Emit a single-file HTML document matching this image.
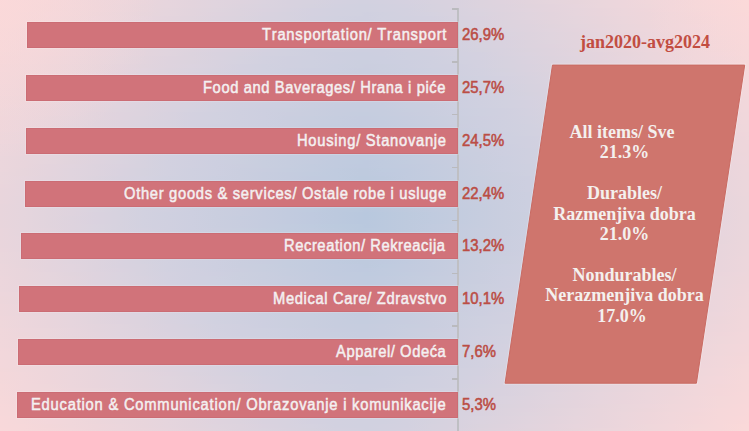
<!DOCTYPE html>
<html><head><meta charset="utf-8"><style>
html,body{margin:0;padding:0;}
body{width:749px;height:431px;overflow:hidden;position:relative;background:#d2d1e0;}
#bg div{position:absolute;left:0;width:749px;height:4px;}
#cb{position:absolute;left:0;top:0;width:749px;height:431px;background:radial-gradient(circle at 0 0,rgba(252,217,217,0.55) 0,rgba(252,217,217,0) 160px),radial-gradient(circle at 749px 0,rgba(252,217,217,0.3) 0,rgba(252,217,217,0) 110px);}
.bar{position:absolute;height:26.0px;background:#d1737a;box-shadow:0 0 0 1px rgba(255,255,255,0.15),inset 0 0 0 1px rgba(160,50,65,0.10);}
.lab,.val{position:absolute;height:0;line-height:0;white-space:nowrap;font-kerning:none;font-family:"Liberation Sans",Arial,sans-serif;font-size:15px;font-weight:700;}
.lab{color:#f4f0f1;font-size:16.0px;font-weight:400;-webkit-text-stroke:0.5px #f4f0f1;transform:scaleX(0.92);transform-origin:0 0;}
.val{left:462px;color:#bb4d45;font-size:16px;font-weight:400;-webkit-text-stroke:0.55px #bb4d45;transform:scaleX(0.93);transform-origin:0 0;}
.axis{position:absolute;left:457.1px;top:8.25px;width:1.6px;height:431px;background:#bfbfc3;}
.tick{position:absolute;left:451.5px;width:6px;height:1.5px;background:#bababe;}
.title{position:absolute;left:580px;top:41.52px;height:0;line-height:0;white-space:nowrap;color:#c24d42;
font-family:"Liberation Serif","Times New Roman",serif;font-size:18px;font-weight:700;}
.sh{position:relative;left:-2.4px;}
.box{position:absolute;left:0;top:0;}
.txt{position:absolute;left:524.5px;width:200px;top:121.7px;text-align:center;color:#f4f0ee;
font-family:"Liberation Serif","Times New Roman",serif;font-size:18px;font-weight:700;line-height:20.45px;}
</style></head><body>
<div id="bg"><div style="top:0px;background:linear-gradient(90deg,#f9d8da 0px,#f6d8da 24px,#f4d7da 48px,#f1d7db 72px,#eed6db 96px,#ecd6dc 120px,#e9d5dc 144px,#e6d5dd 168px,#e3d4dd 192px,#e0d4de 216px,#ded3de 240px,#dbd3df 264px,#d8d2df 288px,#d6d2df 312px,#d4d1e0 336px,#d2d1e0 360px,#d2d1e0 366px,#d3d1e0 384px,#d5d1e0 408px,#d7d2df 432px,#d9d2df 456px,#dcd3de 480px,#dfd3de 504px,#e2d4dd 528px,#e5d5dd 552px,#e7d5dc 576px,#ead6dc 600px,#edd6dc 624px,#f0d7db 648px,#f2d7db 672px,#f5d8da 696px,#f8d8da 720px,#fad9d9 744px,#fbd9d9 749px)"></div><div style="top:4px;background:linear-gradient(90deg,#f9d8da 0px,#f6d8da 24px,#f3d7da 48px,#f1d7db 72px,#eed6db 96px,#ebd6dc 120px,#e8d5dc 144px,#e6d5dd 168px,#e3d4dd 192px,#e0d4de 216px,#ddd3de 240px,#dad3df 264px,#d8d2df 288px,#d5d2df 312px,#d3d1e0 336px,#d1d1e0 360px,#d1d1e0 366px,#d2d1e0 384px,#d4d1e0 408px,#d6d2df 432px,#d9d2df 456px,#dcd3de 480px,#ded3de 504px,#e1d4dd 528px,#e4d4dd 552px,#e7d5dd 576px,#ead6dc 600px,#edd6dc 624px,#efd7db 648px,#f2d7db 672px,#f5d8da 696px,#f7d8da 720px,#fad9d9 744px,#fad9d9 749px)"></div><div style="top:8px;background:linear-gradient(90deg,#f8d8da 0px,#f6d8da 24px,#f3d7da 48px,#f0d7db 72px,#eed6db 96px,#ebd6dc 120px,#e8d5dc 144px,#e5d5dd 168px,#e2d4dd 192px,#dfd4de 216px,#dcd3de 240px,#dad2df 264px,#d7d2df 288px,#d4d1e0 312px,#d2d1e0 336px,#d1d1e0 360px,#d1d1e0 366px,#d2d1e0 384px,#d3d1e0 408px,#d6d2df 432px,#d8d2df 456px,#dbd3df 480px,#ded3de 504px,#e1d4de 528px,#e4d4dd 552px,#e6d5dd 576px,#e9d5dc 600px,#ecd6dc 624px,#efd6db 648px,#f2d7db 672px,#f4d8da 696px,#f7d8da 720px,#f9d9d9 744px,#fad9d9 749px)"></div><div style="top:12px;background:linear-gradient(90deg,#f8d8da 0px,#f5d8da 24px,#f3d7db 48px,#f0d7db 72px,#edd6db 96px,#ead6dc 120px,#e7d5dc 144px,#e5d5dd 168px,#e2d4dd 192px,#dfd3de 216px,#dcd3de 240px,#d9d2df 264px,#d6d2df 288px,#d4d1e0 312px,#d2d1e0 336px,#d1d1e0 360px,#d0d0e0 366px,#d1d1e0 384px,#d3d1e0 408px,#d5d2e0 432px,#d8d2df 456px,#dad3df 480px,#ddd3de 504px,#e0d4de 528px,#e3d4dd 552px,#e6d5dd 576px,#e9d5dc 600px,#ecd6dc 624px,#eed6db 648px,#f1d7db 672px,#f4d7da 696px,#f7d8da 720px,#f9d8d9 744px,#fad9d9 749px)"></div><div style="top:16px;background:linear-gradient(90deg,#f8d8da 0px,#f5d8da 24px,#f2d7db 48px,#efd7db 72px,#edd6dc 96px,#ead6dc 120px,#e7d5dd 144px,#e4d4dd 168px,#e1d4dd 192px,#ded3de 216px,#dbd3de 240px,#d8d2df 264px,#d6d2df 288px,#d3d1e0 312px,#d1d1e0 336px,#d0d0e0 360px,#d0d0e0 366px,#d1d1e0 384px,#d2d1e0 408px,#d4d1e0 432px,#d7d2df 456px,#dad2df 480px,#ddd3de 504px,#e0d4de 528px,#e3d4dd 552px,#e5d5dd 576px,#e8d5dc 600px,#ebd6dc 624px,#eed6db 648px,#f1d7db 672px,#f3d7da 696px,#f6d8da 720px,#f9d8da 744px,#f9d8d9 749px)"></div><div style="top:20px;background:linear-gradient(90deg,#f7d8da 0px,#f5d8da 24px,#f2d7db 48px,#efd7db 72px,#ecd6dc 96px,#e9d5dc 120px,#e6d5dd 144px,#e4d4dd 168px,#e1d4de 192px,#ded3de 216px,#dbd3df 240px,#d8d2df 264px,#d5d2df 288px,#d3d1e0 312px,#d1d1e0 336px,#d0d0e0 360px,#d0d0e0 366px,#d0d0e0 384px,#d2d1e0 408px,#d4d1e0 432px,#d6d2df 456px,#d9d2df 480px,#dcd3de 504px,#dfd3de 528px,#e2d4dd 552px,#e5d5dd 576px,#e8d5dc 600px,#ebd6dc 624px,#eed6db 648px,#f0d7db 672px,#f3d7da 696px,#f6d8da 720px,#f8d8da 744px,#f9d8da 749px)"></div><div style="top:24px;background:linear-gradient(90deg,#f7d8da 0px,#f4d8da 24px,#f1d7db 48px,#efd6db 72px,#ecd6dc 96px,#e9d5dc 120px,#e6d5dd 144px,#e3d4dd 168px,#e0d4de 192px,#ddd3de 216px,#dad3df 240px,#d7d2df 264px,#d4d1e0 288px,#d2d1e0 312px,#d0d0e0 336px,#cfd0e0 360px,#cfd0e0 366px,#d0d0e0 384px,#d1d1e0 408px,#d3d1e0 432px,#d6d2df 456px,#d9d2df 480px,#dcd3de 504px,#ded3de 528px,#e1d4dd 552px,#e4d5dd 576px,#e7d5dc 600px,#ead6dc 624px,#edd6db 648px,#f0d7db 672px,#f3d7db 696px,#f5d8da 720px,#f8d8da 744px,#f9d8da 749px)"></div><div style="top:28px;background:linear-gradient(90deg,#f6d8da 0px,#f4d7da 24px,#f1d7db 48px,#eed6db 72px,#ebd6dc 96px,#e8d5dc 120px,#e6d5dd 144px,#e3d4dd 168px,#e0d4de 192px,#ddd3de 216px,#dad2df 240px,#d7d2df 264px,#d4d1e0 288px,#d2d1e0 312px,#d0d0e0 336px,#cfd0e0 360px,#cfd0e0 366px,#cfd0e0 384px,#d1d1e0 408px,#d2d1e0 432px,#d5d2df 456px,#d8d2df 480px,#dbd3df 504px,#ded3de 528px,#e1d4de 552px,#e4d4dd 576px,#e7d5dd 600px,#ead6dc 624px,#edd6dc 648px,#f0d7db 672px,#f2d7db 696px,#f5d8da 720px,#f8d8da 744px,#f8d8da 749px)"></div><div style="top:32px;background:linear-gradient(90deg,#f6d8da 0px,#f3d7da 24px,#f1d7db 48px,#eed6db 72px,#ebd6dc 96px,#e8d5dc 120px,#e5d5dd 144px,#e2d4dd 168px,#dfd3de 192px,#dcd3de 216px,#d9d2df 240px,#d6d2df 264px,#d3d1e0 288px,#d1d1e0 312px,#d0d0e0 336px,#ced0e0 360px,#ced0e0 366px,#cfd0e0 384px,#d0d0e0 408px,#d2d1e0 432px,#d5d1e0 456px,#d7d2df 480px,#dad3df 504px,#ddd3de 528px,#e0d4de 552px,#e3d4dd 576px,#e6d5dd 600px,#e9d5dc 624px,#ecd6dc 648px,#efd7db 672px,#f2d7db 696px,#f5d8da 720px,#f7d8da 744px,#f8d8da 749px)"></div><div style="top:36px;background:linear-gradient(90deg,#f6d8da 0px,#f3d7da 24px,#f0d7db 48px,#edd6db 72px,#ebd6dc 96px,#e8d5dc 120px,#e5d5dd 144px,#e2d4dd 168px,#ded3de 192px,#dbd3de 216px,#d8d2df 240px,#d5d2df 264px,#d3d1e0 288px,#d1d1e0 312px,#cfd0e0 336px,#ced0e0 360px,#ced0e0 366px,#cfd0e0 384px,#d0d0e0 408px,#d1d1e0 432px,#d4d1e0 456px,#d7d2df 480px,#dad2df 504px,#ddd3de 528px,#e0d4de 552px,#e3d4dd 576px,#e6d5dd 600px,#e9d5dc 624px,#ecd6dc 648px,#efd6db 672px,#f2d7db 696px,#f4d8da 720px,#f7d8da 744px,#f7d8da 749px)"></div><div style="top:40px;background:linear-gradient(90deg,#f5d8da 0px,#f3d7db 24px,#f0d7db 48px,#edd6dc 72px,#ead6dc 96px,#e7d5dc 120px,#e4d4dd 144px,#e1d4dd 168px,#ded3de 192px,#dbd3df 216px,#d8d2df 240px,#d5d2e0 264px,#d2d1e0 288px,#d0d0e0 312px,#cfd0e0 336px,#cecfe0 360px,#cdcfe0 366px,#ced0e0 384px,#cfd0e0 408px,#d1d1e0 432px,#d3d1e0 456px,#d6d2df 480px,#d9d2df 504px,#dcd3de 528px,#dfd4de 552px,#e2d4dd 576px,#e5d5dd 600px,#e8d5dc 624px,#ebd6dc 648px,#eed6db 672px,#f1d7db 696px,#f4d7da 720px,#f7d8da 744px,#f7d8da 749px)"></div><div style="top:44px;background:linear-gradient(90deg,#f5d8da 0px,#f2d7db 24px,#efd7db 48px,#edd6dc 72px,#ead6dc 96px,#e7d5dd 120px,#e4d4dd 144px,#e1d4de 168px,#ddd3de 192px,#dad3df 216px,#d7d2df 240px,#d4d1e0 264px,#d2d1e0 288px,#d0d0e0 312px,#ced0e0 336px,#cdcfe0 360px,#cdcfe0 366px,#cecfe0 384px,#cfd0e0 408px,#d1d1e0 432px,#d3d1e0 456px,#d6d2df 480px,#d9d2df 504px,#dcd3de 528px,#dfd3de 552px,#e2d4dd 576px,#e5d5dd 600px,#e8d5dc 624px,#ebd6dc 648px,#eed6db 672px,#f1d7db 696px,#f4d7da 720px,#f6d8da 744px,#f7d8da 749px)"></div><div style="top:48px;background:linear-gradient(90deg,#f5d8da 0px,#f2d7db 24px,#efd7db 48px,#ecd6dc 72px,#e9d5dc 96px,#e6d5dd 120px,#e3d4dd 144px,#e0d4de 168px,#ddd3de 192px,#dad2df 216px,#d7d2df 240px,#d4d1e0 264px,#d1d1e0 288px,#cfd0e0 312px,#ced0e0 336px,#cdcfe0 360px,#cdcfe0 366px,#cdcfe0 384px,#cfd0e0 408px,#d0d0e0 432px,#d2d1e0 456px,#d5d2df 480px,#d8d2df 504px,#dbd3de 528px,#ded3de 552px,#e1d4dd 576px,#e5d5dd 600px,#e8d5dc 624px,#ebd6dc 648px,#eed6db 672px,#f0d7db 696px,#f3d7da 720px,#f6d8da 744px,#f6d8da 749px)"></div><div style="top:52px;background:linear-gradient(90deg,#f4d8da 0px,#f1d7db 24px,#efd6db 48px,#ecd6dc 72px,#e9d5dc 96px,#e6d5dd 120px,#e3d4dd 144px,#e0d4de 168px,#dcd3de 192px,#d9d2df 216px,#d6d2df 240px,#d3d1e0 264px,#d1d1e0 288px,#cfd0e0 312px,#cdcfe0 336px,#cccfe0 360px,#cccfe0 366px,#cdcfe0 384px,#ced0e0 408px,#d0d0e0 432px,#d2d1e0 456px,#d4d1e0 480px,#d8d2df 504px,#dbd3df 528px,#ded3de 552px,#e1d4de 576px,#e4d4dd 600px,#e7d5dc 624px,#ead6dc 648px,#edd6db 672px,#f0d7db 696px,#f3d7db 720px,#f6d8da 744px,#f6d8da 749px)"></div><div style="top:56px;background:linear-gradient(90deg,#f4d7da 0px,#f1d7db 24px,#eed6db 48px,#ebd6dc 72px,#e8d5dc 96px,#e5d5dd 120px,#e2d4dd 144px,#dfd3de 168px,#dcd3de 192px,#d9d2df 216px,#d5d2df 240px,#d2d1e0 264px,#d0d0e0 288px,#cfd0e0 312px,#cdcfe0 336px,#cccfe0 360px,#cccfe0 366px,#cccfe0 384px,#ced0e0 408px,#cfd0e0 432px,#d1d1e0 456px,#d4d1e0 480px,#d7d2df 504px,#dad3df 528px,#ddd3de 552px,#e0d4de 576px,#e4d4dd 600px,#e7d5dd 624px,#ead6dc 648px,#edd6dc 672px,#f0d7db 696px,#f2d7db 720px,#f5d8da 744px,#f6d8da 749px)"></div><div style="top:60px;background:linear-gradient(90deg,#f4d7da 0px,#f1d7db 24px,#eed6db 48px,#ebd6dc 72px,#e8d5dc 96px,#e5d5dd 120px,#e2d4dd 144px,#ded3de 168px,#dbd3de 192px,#d8d2df 216px,#d5d2e0 240px,#d2d1e0 264px,#d0d0e0 288px,#ced0e0 312px,#cdcfe0 336px,#cbcfdf 360px,#cbcfdf 366px,#cccfe0 384px,#cdcfe0 408px,#cfd0e0 432px,#d1d1e0 456px,#d3d1e0 480px,#d6d2df 504px,#dad2df 528px,#ddd3de 552px,#e0d4de 576px,#e3d4dd 600px,#e6d5dd 624px,#e9d5dc 648px,#ecd6dc 672px,#efd7db 696px,#f2d7db 720px,#f5d8da 744px,#f5d8da 749px)"></div><div style="top:64px;background:linear-gradient(90deg,#f3d7da 0px,#f0d7db 24px,#edd6db 48px,#ead6dc 72px,#e7d5dc 96px,#e4d4dd 120px,#e1d4dd 144px,#ded3de 168px,#dbd3df 192px,#d8d2df 216px,#d4d1e0 240px,#d1d1e0 264px,#d0d0e0 288px,#ced0e0 312px,#cccfe0 336px,#cbcfdf 360px,#cbcedf 366px,#cbcfdf 384px,#cdcfe0 408px,#cfd0e0 432px,#d0d0e0 456px,#d3d1e0 480px,#d6d2df 504px,#d9d2df 528px,#dcd3de 552px,#dfd4de 576px,#e3d4dd 600px,#e6d5dd 624px,#e9d5dc 648px,#ecd6dc 672px,#efd6db 696px,#f2d7db 720px,#f4d8da 744px,#f5d8da 749px)"></div><div style="top:68px;background:linear-gradient(90deg,#f3d7db 0px,#f0d7db 24px,#edd6db 48px,#ead6dc 72px,#e7d5dc 96px,#e4d4dd 120px,#e1d4de 144px,#ddd3de 168px,#dad3df 192px,#d7d2df 216px,#d4d1e0 240px,#d1d1e0 264px,#cfd0e0 288px,#cdcfe0 312px,#cccfe0 336px,#cacedf 360px,#cacedf 366px,#cbcfdf 384px,#cccfe0 408px,#ced0e0 432px,#d0d0e0 456px,#d2d1e0 480px,#d5d2df 504px,#d9d2df 528px,#dcd3de 552px,#dfd3de 576px,#e2d4dd 600px,#e5d5dd 624px,#e8d5dc 648px,#ebd6dc 672px,#eed6db 696px,#f1d7db 720px,#f4d8da 744px,#f5d8da 749px)"></div><div style="top:72px;background:linear-gradient(90deg,#f2d7db 0px,#f0d7db 24px,#edd6dc 48px,#ead6dc 72px,#e7d5dd 96px,#e3d4dd 120px,#e0d4de 144px,#ddd3de 168px,#dad2df 192px,#d6d2df 216px,#d3d1e0 240px,#d1d1e0 264px,#cfd0e0 288px,#cdcfe0 312px,#cbcfdf 336px,#cacedf 360px,#cacedf 366px,#cbcedf 384px,#cccfe0 408px,#ced0e0 432px,#d0d0e0 456px,#d2d1e0 480px,#d5d2e0 504px,#d8d2df 528px,#dbd3de 552px,#dfd3de 576px,#e2d4dd 600px,#e5d5dd 624px,#e8d5dc 648px,#ebd6dc 672px,#eed6db 696px,#f1d7db 720px,#f4d7da 744px,#f4d8da 749px)"></div><div style="top:76px;background:linear-gradient(90deg,#f2d7db 0px,#efd7db 24px,#ecd6dc 48px,#e9d5dc 72px,#e6d5dd 96px,#e3d4dd 120px,#e0d4de 144px,#dcd3de 168px,#d9d2df 192px,#d6d2df 216px,#d3d1e0 240px,#d0d0e0 264px,#ced0e0 288px,#cdcfe0 312px,#cbcfdf 336px,#cacedf 360px,#c9cedf 366px,#cacedf 384px,#cccfe0 408px,#cdcfe0 432px,#cfd0e0 456px,#d1d1e0 480px,#d4d1e0 504px,#d7d2df 528px,#dbd3df 552px,#ded3de 576px,#e1d4dd 600px,#e4d5dd 624px,#e8d5dc 648px,#ebd6dc 672px,#eed6db 696px,#f1d7db 720px,#f3d7da 744px,#f4d7da 749px)"></div><div style="top:80px;background:linear-gradient(90deg,#f2d7db 0px,#efd6db 24px,#ecd6dc 48px,#e9d5dc 72px,#e6d5dd 96px,#e3d4dd 120px,#dfd4de 144px,#dcd3de 168px,#d9d2df 192px,#d5d2df 216px,#d2d1e0 240px,#d0d0e0 264px,#ced0e0 288px,#cccfe0 312px,#cacedf 336px,#c9cedf 360px,#c9cedf 366px,#cacedf 384px,#cbcfdf 408px,#cdcfe0 432px,#cfd0e0 456px,#d1d1e0 480px,#d4d1e0 504px,#d7d2df 528px,#dad3df 552px,#ded3de 576px,#e1d4de 600px,#e4d4dd 624px,#e7d5dc 648px,#ead6dc 672px,#edd6db 696px,#f0d7db 720px,#f3d7da 744px,#f4d7da 749px)"></div><div style="top:84px;background:linear-gradient(90deg,#f1d7db 0px,#efd6db 24px,#ecd6dc 48px,#e8d5dc 72px,#e5d5dd 96px,#e2d4dd 120px,#dfd3de 144px,#dbd3de 168px,#d8d2df 192px,#d5d2e0 216px,#d2d1e0 240px,#d0d0e0 264px,#cecfe0 288px,#cccfe0 312px,#cacedf 336px,#c9cedf 360px,#c8cedf 366px,#c9cedf 384px,#cbcedf 408px,#cdcfe0 432px,#ced0e0 456px,#d1d0e0 480px,#d3d1e0 504px,#d6d2df 528px,#dad2df 552px,#ddd3de 576px,#e0d4de 600px,#e4d4dd 624px,#e7d5dd 648px,#ead6dc 672px,#edd6dc 696px,#f0d7db 720px,#f3d7db 744px,#f3d7da 749px)"></div><div style="top:88px;background:linear-gradient(90deg,#f1d7db 0px,#eed6db 24px,#ebd6dc 48px,#e8d5dc 72px,#e5d5dd 96px,#e2d4dd 120px,#ded3de 144px,#dbd3df 168px,#d8d2df 192px,#d4d1e0 216px,#d1d1e0 240px,#cfd0e0 264px,#cdcfe0 288px,#cbcfdf 312px,#c9cedf 336px,#c8cedf 360px,#c8cedf 366px,#c9cedf 384px,#cacedf 408px,#cccfe0 432px,#ced0e0 456px,#d0d0e0 480px,#d2d1e0 504px,#d6d2df 528px,#d9d2df 552px,#ddd3de 576px,#e0d4de 600px,#e3d4dd 624px,#e6d5dd 648px,#e9d5dc 672px,#edd6dc 696px,#f0d7db 720px,#f2d7db 744px,#f3d7da 749px)"></div><div style="top:92px;background:linear-gradient(90deg,#f1d7db 0px,#eed6db 24px,#ebd6dc 48px,#e8d5dc 72px,#e4d5dd 96px,#e1d4dd 120px,#ded3de 144px,#dad3df 168px,#d7d2df 192px,#d4d1e0 216px,#d1d1e0 240px,#cfd0e0 264px,#cdcfe0 288px,#cbcfdf 312px,#c9cedf 336px,#c8cddf 360px,#c7cddf 366px,#c8cedf 384px,#cacedf 408px,#cccfe0 432px,#ced0e0 456px,#d0d0e0 480px,#d2d1e0 504px,#d5d2df 528px,#d9d2df 552px,#dcd3de 576px,#dfd4de 600px,#e3d4dd 624px,#e6d5dd 648px,#e9d5dc 672px,#ecd6dc 696px,#efd7db 720px,#f2d7db 744px,#f3d7db 749px)"></div><div style="top:96px;background:linear-gradient(90deg,#f0d7db 0px,#edd6db 24px,#ead6dc 48px,#e7d5dc 72px,#e4d4dd 96px,#e1d4de 120px,#ddd3de 144px,#dad3df 168px,#d7d2df 192px,#d3d1e0 216px,#d1d0e0 240px,#ced0e0 264px,#cccfe0 288px,#cacedf 312px,#c9cedf 336px,#c7cddf 360px,#c7cddf 366px,#c8cddf 384px,#c9cedf 408px,#cbcfdf 432px,#cdcfe0 456px,#cfd0e0 480px,#d2d1e0 504px,#d5d2e0 528px,#d8d2df 552px,#dcd3de 576px,#dfd3de 600px,#e2d4dd 624px,#e5d5dd 648px,#e9d5dc 672px,#ecd6dc 696px,#efd6db 720px,#f2d7db 744px,#f2d7db 749px)"></div><div style="top:100px;background:linear-gradient(90deg,#f0d7db 0px,#edd6db 24px,#ead6dc 48px,#e7d5dd 72px,#e4d4dd 96px,#e0d4de 120px,#ddd3de 144px,#d9d2df 168px,#d6d2df 192px,#d3d1e0 216px,#d0d0e0 240px,#ced0e0 264px,#cccfe0 288px,#cacedf 312px,#c8cedf 336px,#c7cddf 360px,#c7cddf 366px,#c7cddf 384px,#c9cedf 408px,#cbcfdf 432px,#cdcfe0 456px,#cfd0e0 480px,#d1d1e0 504px,#d4d1e0 528px,#d8d2df 552px,#dbd3de 576px,#ded3de 600px,#e2d4dd 624px,#e5d5dd 648px,#e8d5dc 672px,#ebd6dc 696px,#eed6db 720px,#f1d7db 744px,#f2d7db 749px)"></div><div style="top:104px;background:linear-gradient(90deg,#f0d7db 0px,#edd6dc 24px,#ead5dc 48px,#e6d5dd 72px,#e3d4dd 96px,#e0d4de 120px,#dcd3de 144px,#d9d2df 168px,#d6d2df 192px,#d2d1e0 216px,#d0d0e0 240px,#cecfe0 264px,#cccfe0 288px,#cacedf 312px,#c8cddf 336px,#c6cddf 360px,#c6cddf 366px,#c7cddf 384px,#c9cedf 408px,#cacedf 432px,#cdcfe0 456px,#cfd0e0 480px,#d1d1e0 504px,#d4d1e0 528px,#d7d2df 552px,#dbd3df 576px,#ded3de 600px,#e1d4dd 624px,#e5d5dd 648px,#e8d5dc 672px,#ebd6dc 696px,#eed6db 720px,#f1d7db 744px,#f2d7db 749px)"></div><div style="top:108px;background:linear-gradient(90deg,#efd7db 0px,#ecd6dc 24px,#e9d5dc 48px,#e6d5dd 72px,#e3d4dd 96px,#dfd4de 120px,#dcd3de 144px,#d9d2df 168px,#d5d2e0 192px,#d2d1e0 216px,#cfd0e0 240px,#cdcfe0 264px,#cbcfdf 288px,#c9cedf 312px,#c7cddf 336px,#c6cddf 360px,#c6cddf 366px,#c6cddf 384px,#c8cedf 408px,#cacedf 432px,#cccfe0 456px,#ced0e0 480px,#d0d0e0 504px,#d3d1e0 528px,#d7d2df 552px,#dad3df 576px,#ded3de 600px,#e1d4de 624px,#e4d4dd 648px,#e8d5dc 672px,#ebd6dc 696px,#eed6db 720px,#f1d7db 744px,#f1d7db 749px)"></div><div style="top:112px;background:linear-gradient(90deg,#efd7db 0px,#ecd6dc 24px,#e9d5dc 48px,#e6d5dd 72px,#e2d4dd 96px,#dfd3de 120px,#dcd3de 144px,#d8d2df 168px,#d4d1e0 192px,#d1d1e0 216px,#cfd0e0 240px,#cdcfe0 264px,#cbcedf 288px,#c9cedf 312px,#c7cddf 336px,#c5cddf 360px,#c5cddf 366px,#c6cddf 384px,#c8cddf 408px,#cacedf 432px,#cccfe0 456px,#ced0e0 480px,#d0d0e0 504px,#d3d1e0 528px,#d6d2df 552px,#dad2df 576px,#ddd3de 600px,#e1d4de 624px,#e4d4dd 648px,#e7d5dc 672px,#ead6dc 696px,#edd6db 720px,#f0d7db 744px,#f1d7db 749px)"></div><div style="top:116px;background:linear-gradient(90deg,#efd6db 0px,#ecd6dc 24px,#e8d5dc 48px,#e5d5dd 72px,#e2d4dd 96px,#dfd3de 120px,#dbd3de 144px,#d8d2df 168px,#d4d1e0 192px,#d1d1e0 216px,#cfd0e0 240px,#cdcfe0 264px,#cacedf 288px,#c8cedf 312px,#c6cddf 336px,#c5ccdf 360px,#c5ccdf 366px,#c5cddf 384px,#c7cddf 408px,#c9cedf 432px,#cbcfdf 456px,#cecfe0 480px,#d0d0e0 504px,#d2d1e0 528px,#d6d2df 552px,#d9d2df 576px,#ddd3de 600px,#e0d4de 624px,#e3d4dd 648px,#e7d5dd 672px,#ead6dc 696px,#edd6db 720px,#f0d7db 744px,#f1d7db 749px)"></div><div style="top:120px;background:linear-gradient(90deg,#eed6db 0px,#ebd6dc 24px,#e8d5dc 48px,#e5d5dd 72px,#e1d4dd 96px,#ded3de 120px,#dbd3df 144px,#d7d2df 168px,#d3d1e0 192px,#d1d1e0 216px,#ced0e0 240px,#cccfe0 264px,#cacedf 288px,#c8cddf 312px,#c6cddf 336px,#c4ccdf 360px,#c4ccdf 366px,#c5ccdf 384px,#c7cddf 408px,#c9cedf 432px,#cbcfdf 456px,#cdcfe0 480px,#cfd0e0 504px,#d2d1e0 528px,#d5d2df 552px,#d9d2df 576px,#dcd3de 600px,#e0d4de 624px,#e3d4dd 648px,#e6d5dd 672px,#ead5dc 696px,#edd6dc 720px,#f0d7db 744px,#f0d7db 749px)"></div><div style="top:124px;background:linear-gradient(90deg,#eed6db 0px,#ebd6dc 24px,#e8d5dc 48px,#e4d5dd 72px,#e1d4dd 96px,#ded3de 120px,#dad3df 144px,#d7d2df 168px,#d3d1e0 192px,#d0d0e0 216px,#ced0e0 240px,#cccfe0 264px,#cacedf 288px,#c7cddf 312px,#c5cddf 336px,#c4ccdf 360px,#c4ccdf 366px,#c5ccdf 384px,#c6cddf 408px,#c8cedf 432px,#cbcedf 456px,#cdcfe0 480px,#cfd0e0 504px,#d1d1e0 528px,#d5d2e0 552px,#d8d2df 576px,#dcd3de 600px,#dfd4de 624px,#e3d4dd 648px,#e6d5dd 672px,#e9d5dc 696px,#ecd6dc 720px,#efd7db 744px,#f0d7db 749px)"></div><div style="top:128px;background:linear-gradient(90deg,#eed6db 0px,#ebd6dc 24px,#e7d5dc 48px,#e4d4dd 72px,#e1d4de 96px,#ddd3de 120px,#dad2df 144px,#d6d2df 168px,#d2d1e0 192px,#d0d0e0 216px,#ced0e0 240px,#cbcfdf 264px,#c9cedf 288px,#c7cddf 312px,#c5ccdf 336px,#c3ccdf 360px,#c3ccdf 366px,#c4ccdf 384px,#c6cddf 408px,#c8cedf 432px,#cacedf 456px,#cccfe0 480px,#cfd0e0 504px,#d1d1e0 528px,#d4d1e0 552px,#d8d2df 576px,#dbd3de 600px,#dfd3de 624px,#e2d4dd 648px,#e6d5dd 672px,#e9d5dc 696px,#ecd6dc 720px,#efd7db 744px,#f0d7db 749px)"></div><div style="top:132px;background:linear-gradient(90deg,#edd6db 0px,#ead6dc 24px,#e7d5dd 48px,#e4d4dd 72px,#e0d4de 96px,#ddd3de 120px,#d9d2df 144px,#d6d2df 168px,#d2d1e0 192px,#d0d0e0 216px,#cdcfe0 240px,#cbcfdf 264px,#c9cedf 288px,#c7cddf 312px,#c5ccdf 336px,#c3ccdf 360px,#c3ccdf 366px,#c4ccdf 384px,#c5cddf 408px,#c8cddf 432px,#cacedf 456px,#cccfe0 480px,#ced0e0 504px,#d1d1e0 528px,#d4d1e0 552px,#d7d2df 576px,#dbd3df 600px,#ded3de 624px,#e2d4dd 648px,#e5d5dd 672px,#e8d5dc 696px,#ecd6dc 720px,#efd6db 744px,#efd7db 749px)"></div><div style="top:136px;background:linear-gradient(90deg,#edd6db 0px,#ead6dc 24px,#e7d5dd 48px,#e3d4dd 72px,#e0d4de 96px,#dcd3de 120px,#d9d2df 144px,#d5d2df 168px,#d2d1e0 192px,#cfd0e0 216px,#cdcfe0 240px,#cbcedf 264px,#c8cedf 288px,#c6cddf 312px,#c4ccdf 336px,#c2ccdf 360px,#c2ccdf 366px,#c3ccdf 384px,#c5ccdf 408px,#c7cddf 432px,#c9cedf 456px,#cccfe0 480px,#ced0e0 504px,#d0d0e0 528px,#d3d1e0 552px,#d7d2df 576px,#dad3df 600px,#ded3de 624px,#e1d4dd 648px,#e5d5dd 672px,#e8d5dc 696px,#ebd6dc 720px,#eed6db 744px,#efd7db 749px)"></div><div style="top:140px;background:linear-gradient(90deg,#edd6dc 0px,#ead5dc 24px,#e6d5dd 48px,#e3d4dd 72px,#dfd4de 96px,#dcd3de 120px,#d8d2df 144px,#d5d2e0 168px,#d1d1e0 192px,#cfd0e0 216px,#cdcfe0 240px,#cacedf 264px,#c8cedf 288px,#c6cddf 312px,#c4ccdf 336px,#c2cbdf 360px,#c2cbdf 366px,#c3ccdf 384px,#c5ccdf 408px,#c7cddf 432px,#c9cedf 456px,#cbcfdf 480px,#ced0e0 504px,#d0d0e0 528px,#d3d1e0 552px,#d6d2df 576px,#dad3df 600px,#ded3de 624px,#e1d4dd 648px,#e4d5dd 672px,#e8d5dc 696px,#ebd6dc 720px,#eed6db 744px,#efd6db 749px)"></div><div style="top:144px;background:linear-gradient(90deg,#ecd6dc 0px,#e9d5dc 24px,#e6d5dd 48px,#e3d4dd 72px,#dfd3de 96px,#dcd3de 120px,#d8d2df 144px,#d4d1e0 168px,#d1d1e0 192px,#cfd0e0 216px,#cccfe0 240px,#cacedf 264px,#c8cddf 288px,#c5cddf 312px,#c3ccdf 336px,#c1cbdf 360px,#c1cbdf 366px,#c2ccdf 384px,#c4ccdf 408px,#c6cddf 432px,#c9cedf 456px,#cbcfdf 480px,#cdcfe0 504px,#d0d0e0 528px,#d2d1e0 552px,#d6d2df 576px,#dad2df 600px,#ddd3de 624px,#e1d4de 648px,#e4d4dd 672px,#e7d5dc 696px,#ebd6dc 720px,#eed6db 744px,#eed6db 749px)"></div><div style="top:148px;background:linear-gradient(90deg,#ecd6dc 0px,#e9d5dc 24px,#e6d5dd 48px,#e2d4dd 72px,#dfd3de 96px,#dbd3de 120px,#d7d2df 144px,#d4d1e0 168px,#d1d1e0 192px,#ced0e0 216px,#cccfe0 240px,#cacedf 264px,#c7cddf 288px,#c5ccdf 312px,#c3ccdf 336px,#c1cbdf 360px,#c1cbdf 366px,#c2cbdf 384px,#c4ccdf 408px,#c6cddf 432px,#c8cedf 456px,#cbcedf 480px,#cdcfe0 504px,#cfd0e0 528px,#d2d1e0 552px,#d6d2df 576px,#d9d2df 600px,#ddd3de 624px,#e0d4de 648px,#e4d4dd 672px,#e7d5dc 696px,#ead6dc 720px,#eed6db 744px,#eed6db 749px)"></div><div style="top:152px;background:linear-gradient(90deg,#ecd6dc 0px,#e9d5dc 24px,#e5d5dd 48px,#e2d4dd 72px,#ded3de 96px,#dbd3df 120px,#d7d2df 144px,#d3d1e0 168px,#d0d0e0 192px,#ced0e0 216px,#cccfe0 240px,#c9cedf 264px,#c7cddf 288px,#c4ccdf 312px,#c2ccdf 336px,#c0cbdf 360px,#c0cbdf 366px,#c1cbdf 384px,#c3ccdf 408px,#c6cddf 432px,#c8cedf 456px,#cacedf 480px,#cdcfe0 504px,#cfd0e0 528px,#d2d1e0 552px,#d5d2df 576px,#d9d2df 600px,#dcd3de 624px,#e0d4de 648px,#e3d4dd 672px,#e7d5dd 696px,#ead6dc 720px,#edd6db 744px,#eed6db 749px)"></div><div style="top:156px;background:linear-gradient(90deg,#ebd6dc 0px,#e8d5dc 24px,#e5d5dd 48px,#e1d4dd 72px,#ded3de 96px,#dad3df 120px,#d7d2df 144px,#d3d1e0 168px,#d0d0e0 192px,#ced0e0 216px,#cbcfdf 240px,#c9cedf 264px,#c6cddf 288px,#c4ccdf 312px,#c2cbdf 336px,#c0cbdf 360px,#c0cbdf 366px,#c1cbdf 384px,#c3ccdf 408px,#c5cddf 432px,#c8cddf 456px,#cacedf 480px,#cccfe0 504px,#cfd0e0 528px,#d1d1e0 552px,#d5d2e0 576px,#d8d2df 600px,#dcd3de 624px,#e0d4de 648px,#e3d4dd 672px,#e6d5dd 696px,#ead6dc 720px,#edd6dc 744px,#eed6db 749px)"></div><div style="top:160px;background:linear-gradient(90deg,#ebd6dc 0px,#e8d5dc 24px,#e5d5dd 48px,#e1d4dd 72px,#ded3de 96px,#dad3df 120px,#d6d2df 144px,#d2d1e0 168px,#d0d0e0 192px,#cdcfe0 216px,#cbcfdf 240px,#c8cedf 264px,#c6cddf 288px,#c4ccdf 312px,#c1cbdf 336px,#bfcbdf 360px,#bfcadf 366px,#c0cbdf 384px,#c2ccdf 408px,#c5ccdf 432px,#c7cddf 456px,#cacedf 480px,#cccfe0 504px,#cfd0e0 528px,#d1d1e0 552px,#d4d1e0 576px,#d8d2df 600px,#dcd3de 624px,#dfd4de 648px,#e3d4dd 672px,#e6d5dd 696px,#e9d5dc 720px,#edd6dc 744px,#edd6db 749px)"></div><div style="top:164px;background:linear-gradient(90deg,#ebd6dc 0px,#e8d5dc 24px,#e4d4dd 48px,#e1d4de 72px,#ddd3de 96px,#dad2df 120px,#d6d2df 144px,#d2d1e0 168px,#d0d0e0 192px,#cdcfe0 216px,#cbcedf 240px,#c8cedf 264px,#c6cddf 288px,#c3ccdf 312px,#c1cbdf 336px,#bfcadf 360px,#bfcadf 366px,#c0cbdf 384px,#c2cbdf 408px,#c4ccdf 432px,#c7cddf 456px,#c9cedf 480px,#cccfe0 504px,#ced0e0 528px,#d1d1e0 552px,#d4d1e0 576px,#d8d2df 600px,#dbd3de 624px,#dfd3de 648px,#e2d4dd 672px,#e6d5dd 696px,#e9d5dc 720px,#ecd6dc 744px,#edd6db 749px)"></div><div style="top:168px;background:linear-gradient(90deg,#ebd6dc 0px,#e7d5dc 24px,#e4d4dd 48px,#e0d4de 72px,#ddd3de 96px,#d9d2df 120px,#d5d2df 144px,#d2d1e0 168px,#cfd0e0 192px,#cdcfe0 216px,#cacedf 240px,#c8cddf 264px,#c5cddf 288px,#c3ccdf 312px,#c0cbdf 336px,#becade 360px,#becade 366px,#bfcbdf 384px,#c1cbdf 408px,#c4ccdf 432px,#c6cddf 456px,#c9cedf 480px,#cccfe0 504px,#ced0e0 528px,#d0d0e0 552px,#d3d1e0 576px,#d7d2df 600px,#dbd3df 624px,#dfd3de 648px,#e2d4dd 672px,#e6d5dd 696px,#e9d5dc 720px,#ecd6dc 744px,#edd6dc 749px)"></div><div style="top:172px;background:linear-gradient(90deg,#ead6dc 0px,#e7d5dc 24px,#e4d4dd 48px,#e0d4de 72px,#ddd3de 96px,#d9d2df 120px,#d5d2df 144px,#d2d1e0 168px,#cfd0e0 192px,#cdcfe0 216px,#cacedf 240px,#c7cddf 264px,#c5ccdf 288px,#c2ccdf 312px,#c0cbdf 336px,#becade 360px,#becade 366px,#bfcadf 384px,#c1cbdf 408px,#c4ccdf 432px,#c6cddf 456px,#c9cedf 480px,#cbcfdf 504px,#ced0e0 528px,#d0d0e0 552px,#d3d1e0 576px,#d7d2df 600px,#dbd3df 624px,#ded3de 648px,#e2d4dd 672px,#e5d5dd 696px,#e9d5dc 720px,#ecd6dc 744px,#ecd6dc 749px)"></div><div style="top:176px;background:linear-gradient(90deg,#ead6dc 0px,#e7d5dd 24px,#e3d4dd 48px,#e0d4de 72px,#dcd3de 96px,#d8d2df 120px,#d5d2e0 144px,#d1d1e0 168px,#cfd0e0 192px,#cccfe0 216px,#cacedf 240px,#c7cddf 264px,#c5ccdf 288px,#c2cbdf 312px,#c0cbdf 336px,#bdcade 360px,#bdcade 366px,#becade 384px,#c1cbdf 408px,#c3ccdf 432px,#c6cddf 456px,#c8cedf 480px,#cbcfdf 504px,#cdcfe0 528px,#d0d0e0 552px,#d3d1e0 576px,#d6d2df 600px,#dad3df 624px,#ded3de 648px,#e1d4dd 672px,#e5d5dd 696px,#e8d5dc 720px,#ecd6dc 744px,#ecd6dc 749px)"></div><div style="top:180px;background:linear-gradient(90deg,#ead6dc 0px,#e6d5dd 24px,#e3d4dd 48px,#e0d4de 72px,#dcd3de 96px,#d8d2df 120px,#d4d1e0 144px,#d1d1e0 168px,#cfd0e0 192px,#cccfe0 216px,#c9cedf 240px,#c7cddf 264px,#c4ccdf 288px,#c2cbdf 312px,#bfcadf 336px,#bdcade 360px,#bdcade 366px,#becade 384px,#c0cbdf 408px,#c3ccdf 432px,#c5cddf 456px,#c8cedf 480px,#cbcedf 504px,#cdcfe0 528px,#d0d0e0 552px,#d2d1e0 576px,#d6d2df 600px,#dad3df 624px,#ded3de 648px,#e1d4dd 672px,#e5d5dd 696px,#e8d5dc 720px,#ebd6dc 744px,#ecd6dc 749px)"></div><div style="top:184px;background:linear-gradient(90deg,#ead5dc 0px,#e6d5dd 24px,#e3d4dd 48px,#dfd4de 72px,#dcd3de 96px,#d8d2df 120px,#d4d1e0 144px,#d1d1e0 168px,#ced0e0 192px,#cccfe0 216px,#c9cedf 240px,#c7cddf 264px,#c4ccdf 288px,#c1cbdf 312px,#bfcadf 336px,#bccade 360px,#bcc9de 366px,#bdcade 384px,#c0cbdf 408px,#c2ccdf 432px,#c5cddf 456px,#c8cddf 480px,#cacedf 504px,#cdcfe0 528px,#cfd0e0 552px,#d2d1e0 576px,#d6d2df 600px,#dad2df 624px,#ddd3de 648px,#e1d4de 672px,#e4d5dd 696px,#e8d5dc 720px,#ebd6dc 744px,#ecd6dc 749px)"></div><div style="top:188px;background:linear-gradient(90deg,#e9d5dc 0px,#e6d5dd 24px,#e2d4dd 48px,#dfd3de 72px,#dbd3de 96px,#d7d2df 120px,#d4d1e0 144px,#d1d1e0 168px,#ced0e0 192px,#cbcfdf 216px,#c9cedf 240px,#c6cddf 264px,#c4ccdf 288px,#c1cbdf 312px,#becade 336px,#bcc9de 360px,#bcc9de 366px,#bdcade 384px,#bfcbdf 408px,#c2cbdf 432px,#c5ccdf 456px,#c7cddf 480px,#cacedf 504px,#cdcfe0 528px,#cfd0e0 552px,#d2d1e0 576px,#d5d2df 600px,#d9d2df 624px,#ddd3de 648px,#e1d4de 672px,#e4d4dd 696px,#e8d5dc 720px,#ebd6dc 744px,#ecd6dc 749px)"></div><div style="top:192px;background:linear-gradient(90deg,#e9d5dc 0px,#e6d5dd 24px,#e2d4dd 48px,#dfd3de 72px,#dbd3df 96px,#d7d2df 120px,#d3d1e0 144px,#d0d0e0 168px,#ced0e0 192px,#cbcfdf 216px,#c9cedf 240px,#c6cddf 264px,#c3ccdf 288px,#c0cbdf 312px,#becade 336px,#bbc9de 360px,#bbc9de 366px,#bccade 384px,#bfcadf 408px,#c2cbdf 432px,#c4ccdf 456px,#c7cddf 480px,#cacedf 504px,#cccfe0 528px,#cfd0e0 552px,#d2d1e0 576px,#d5d2df 600px,#d9d2df 624px,#ddd3de 648px,#e0d4de 672px,#e4d4dd 696px,#e7d5dc 720px,#ebd6dc 744px,#ebd6dc 749px)"></div><div style="top:196px;background:linear-gradient(90deg,#e9d5dc 0px,#e5d5dd 24px,#e2d4dd 48px,#ded3de 72px,#dbd3df 96px,#d7d2df 120px,#d3d1e0 144px,#d0d0e0 168px,#cecfe0 192px,#cbcfdf 216px,#c8cedf 240px,#c6cddf 264px,#c3ccdf 288px,#c0cbdf 312px,#bdcade 336px,#bbc9de 360px,#bbc9de 366px,#bcc9de 384px,#bfcadf 408px,#c1cbdf 432px,#c4ccdf 456px,#c7cddf 480px,#cacedf 504px,#cccfe0 528px,#cfd0e0 552px,#d1d1e0 576px,#d5d2e0 600px,#d9d2df 624px,#dcd3de 648px,#e0d4de 672px,#e4d4dd 696px,#e7d5dc 720px,#ead6dc 744px,#ebd6dc 749px)"></div><div style="top:200px;background:linear-gradient(90deg,#e9d5dc 0px,#e5d5dd 24px,#e2d4dd 48px,#ded3de 72px,#dad3df 96px,#d7d2df 120px,#d3d1e0 144px,#d0d0e0 168px,#cdcfe0 192px,#cbcfdf 216px,#c8cedf 240px,#c5cddf 264px,#c3ccdf 288px,#c0cbdf 312px,#bdcade 336px,#bac9de 360px,#bac9de 366px,#bcc9de 384px,#becade 408px,#c1cbdf 432px,#c4ccdf 456px,#c7cddf 480px,#c9cedf 504px,#cccfe0 528px,#cfd0e0 552px,#d1d1e0 576px,#d5d1e0 600px,#d8d2df 624px,#dcd3de 648px,#e0d4de 672px,#e3d4dd 696px,#e7d5dd 720px,#ead6dc 744px,#ebd6dc 749px)"></div><div style="top:204px;background:linear-gradient(90deg,#e8d5dc 0px,#e5d5dd 24px,#e2d4dd 48px,#ded3de 72px,#dad3df 96px,#d6d2df 120px,#d2d1e0 144px,#d0d0e0 168px,#cdcfe0 192px,#cbcedf 216px,#c8cedf 240px,#c5cddf 264px,#c2ccdf 288px,#c0cbdf 312px,#bdcade 336px,#bac9de 360px,#bac9de 366px,#bbc9de 384px,#becade 408px,#c1cbdf 432px,#c4ccdf 456px,#c6cddf 480px,#c9cedf 504px,#cccfe0 528px,#ced0e0 552px,#d1d1e0 576px,#d4d1e0 600px,#d8d2df 624px,#dcd3de 648px,#e0d4de 672px,#e3d4dd 696px,#e7d5dd 720px,#ead6dc 744px,#ebd6dc 749px)"></div><div style="top:208px;background:linear-gradient(90deg,#e8d5dc 0px,#e5d5dd 24px,#e1d4dd 48px,#ded3de 72px,#dad3df 96px,#d6d2df 120px,#d2d1e0 144px,#d0d0e0 168px,#cdcfe0 192px,#cacedf 216px,#c8cddf 240px,#c5ccdf 264px,#c2cbdf 288px,#bfcbdf 312px,#bcc9de 336px,#bac9de 360px,#b9c8de 366px,#bbc9de 384px,#becade 408px,#c1cbdf 432px,#c3ccdf 456px,#c6cddf 480px,#c9cedf 504px,#cccfe0 528px,#ced0e0 552px,#d1d1e0 576px,#d4d1e0 600px,#d8d2df 624px,#dcd3de 648px,#dfd4de 672px,#e3d4dd 696px,#e6d5dd 720px,#ead6dc 744px,#ebd6dc 749px)"></div><div style="top:212px;background:linear-gradient(90deg,#e8d5dc 0px,#e5d5dd 24px,#e1d4dd 48px,#ded3de 72px,#dad2df 96px,#d6d2df 120px,#d2d1e0 144px,#cfd0e0 168px,#cdcfe0 192px,#cacedf 216px,#c8cddf 240px,#c5ccdf 264px,#c2cbdf 288px,#bfcadf 312px,#bcc9de 336px,#b9c8de 360px,#b8c8de 366px,#bac9de 384px,#bdcade 408px,#c0cbdf 432px,#c3ccdf 456px,#c6cddf 480px,#c9cedf 504px,#cbcfdf 528px,#ced0e0 552px,#d1d1e0 576px,#d4d1e0 600px,#d8d2df 624px,#dcd3de 648px,#dfd4de 672px,#e3d4dd 696px,#e6d5dd 720px,#ead6dc 744px,#ead6dc 749px)"></div><div style="top:216px;background:linear-gradient(90deg,#e8d5dc 0px,#e5d5dd 24px,#e1d4dd 48px,#ddd3de 72px,#dad2df 96px,#d6d2df 120px,#d2d1e0 144px,#cfd0e0 168px,#cdcfe0 192px,#cacedf 216px,#c7cddf 240px,#c5ccdf 264px,#c2cbdf 288px,#bfcadf 312px,#bcc9de 336px,#b9c8de 360px,#b8c8de 366px,#bac9de 384px,#bdcade 408px,#c0cbdf 432px,#c3ccdf 456px,#c6cddf 480px,#c9cedf 504px,#cbcfdf 528px,#ced0e0 552px,#d1d1e0 576px,#d4d1e0 600px,#d8d2df 624px,#dbd3de 648px,#dfd4de 672px,#e3d4dd 696px,#e6d5dd 720px,#ead6dc 744px,#ead6dc 749px)"></div><div style="top:220px;background:linear-gradient(90deg,#e8d5dc 0px,#e5d5dd 24px,#e1d4dd 48px,#ded3de 72px,#dad2df 96px,#d6d2df 120px,#d2d1e0 144px,#d0d0e0 168px,#cdcfe0 192px,#cacedf 216px,#c8cddf 240px,#c5ccdf 264px,#c2cbdf 288px,#bfcadf 312px,#bcc9de 336px,#b9c8de 360px,#b9c8de 366px,#bbc9de 384px,#becade 408px,#c0cbdf 432px,#c3ccdf 456px,#c6cddf 480px,#c9cedf 504px,#cccfe0 528px,#ced0e0 552px,#d1d1e0 576px,#d4d1e0 600px,#d8d2df 624px,#dcd3de 648px,#dfd4de 672px,#e3d4dd 696px,#e6d5dd 720px,#ead6dc 744px,#ead6dc 749px)"></div><div style="top:224px;background:linear-gradient(90deg,#e8d5dc 0px,#e5d5dd 24px,#e1d4dd 48px,#ded3de 72px,#dad3df 96px,#d6d2df 120px,#d2d1e0 144px,#d0d0e0 168px,#cdcfe0 192px,#cacedf 216px,#c8cddf 240px,#c5ccdf 264px,#c2ccdf 288px,#bfcbdf 312px,#bccade 336px,#bac9de 360px,#b9c8de 366px,#bbc9de 384px,#becade 408px,#c1cbdf 432px,#c4ccdf 456px,#c6cddf 480px,#c9cedf 504px,#cccfe0 528px,#ced0e0 552px,#d1d1e0 576px,#d4d1e0 600px,#d8d2df 624px,#dcd3de 648px,#dfd4de 672px,#e3d4dd 696px,#e7d5dd 720px,#ead6dc 744px,#ebd6dc 749px)"></div><div style="top:228px;background:linear-gradient(90deg,#e9d5dc 0px,#e5d5dd 24px,#e2d4dd 48px,#ded3de 72px,#dad3df 96px,#d6d2df 120px,#d3d1e0 144px,#d0d0e0 168px,#cdcfe0 192px,#cbcedf 216px,#c8cedf 240px,#c5cddf 264px,#c2ccdf 288px,#c0cbdf 312px,#bdcade 336px,#bac9de 360px,#bac9de 366px,#bbc9de 384px,#becade 408px,#c1cbdf 432px,#c4ccdf 456px,#c7cddf 480px,#c9cedf 504px,#cccfe0 528px,#ced0e0 552px,#d1d1e0 576px,#d4d1e0 600px,#d8d2df 624px,#dcd3de 648px,#e0d4de 672px,#e3d4dd 696px,#e7d5dd 720px,#ead6dc 744px,#ebd6dc 749px)"></div><div style="top:232px;background:linear-gradient(90deg,#e9d5dc 0px,#e5d5dd 24px,#e2d4dd 48px,#ded3de 72px,#dbd3df 96px,#d7d2df 120px,#d3d1e0 144px,#d0d0e0 168px,#cdcfe0 192px,#cbcfdf 216px,#c8cedf 240px,#c5cddf 264px,#c3ccdf 288px,#c0cbdf 312px,#bdcade 336px,#bbc9de 360px,#bac9de 366px,#bcc9de 384px,#becade 408px,#c1cbdf 432px,#c4ccdf 456px,#c7cddf 480px,#c9cedf 504px,#cccfe0 528px,#cfd0e0 552px,#d1d1e0 576px,#d5d2e0 600px,#d8d2df 624px,#dcd3de 648px,#e0d4de 672px,#e3d4dd 696px,#e7d5dd 720px,#ead6dc 744px,#ebd6dc 749px)"></div><div style="top:236px;background:linear-gradient(90deg,#e9d5dc 0px,#e6d5dd 24px,#e2d4dd 48px,#ded3de 72px,#dbd3df 96px,#d7d2df 120px,#d3d1e0 144px,#d0d0e0 168px,#ced0e0 192px,#cbcfdf 216px,#c8cedf 240px,#c6cddf 264px,#c3ccdf 288px,#c0cbdf 312px,#becade 336px,#bbc9de 360px,#bbc9de 366px,#bcc9de 384px,#bfcadf 408px,#c2cbdf 432px,#c4ccdf 456px,#c7cddf 480px,#cacedf 504px,#cccfe0 528px,#cfd0e0 552px,#d1d1e0 576px,#d5d2e0 600px,#d9d2df 624px,#ddd3de 648px,#e0d4de 672px,#e4d4dd 696px,#e7d5dc 720px,#ead6dc 744px,#ebd6dc 749px)"></div><div style="top:240px;background:linear-gradient(90deg,#e9d5dc 0px,#e6d5dd 24px,#e2d4dd 48px,#dfd3de 72px,#dbd3de 96px,#d7d2df 120px,#d3d1e0 144px,#d0d0e0 168px,#ced0e0 192px,#cbcfdf 216px,#c9cedf 240px,#c6cddf 264px,#c3ccdf 288px,#c1cbdf 312px,#becade 336px,#bcc9de 360px,#bbc9de 366px,#bdcade 384px,#bfcadf 408px,#c2cbdf 432px,#c5ccdf 456px,#c7cddf 480px,#cacedf 504px,#cdcfe0 528px,#cfd0e0 552px,#d2d1e0 576px,#d5d2df 600px,#d9d2df 624px,#ddd3de 648px,#e0d4de 672px,#e4d4dd 696px,#e7d5dc 720px,#ebd6dc 744px,#ebd6dc 749px)"></div><div style="top:244px;background:linear-gradient(90deg,#e9d5dc 0px,#e6d5dd 24px,#e3d4dd 48px,#dfd3de 72px,#dbd3de 96px,#d8d2df 120px,#d4d1e0 144px,#d1d1e0 168px,#ced0e0 192px,#cccfe0 216px,#c9cedf 240px,#c6cddf 264px,#c4ccdf 288px,#c1cbdf 312px,#becade 336px,#bcc9de 360px,#bcc9de 366px,#bdcade 384px,#c0cbdf 408px,#c2ccdf 432px,#c5ccdf 456px,#c8cddf 480px,#cacedf 504px,#cdcfe0 528px,#cfd0e0 552px,#d2d1e0 576px,#d6d2df 600px,#d9d2df 624px,#ddd3de 648px,#e1d4de 672px,#e4d4dd 696px,#e8d5dc 720px,#ebd6dc 744px,#ecd6dc 749px)"></div><div style="top:248px;background:linear-gradient(90deg,#ead5dc 0px,#e6d5dd 24px,#e3d4dd 48px,#dfd4de 72px,#dcd3de 96px,#d8d2df 120px,#d4d1e0 144px,#d1d1e0 168px,#ced0e0 192px,#cccfe0 216px,#c9cedf 240px,#c7cddf 264px,#c4ccdf 288px,#c1cbdf 312px,#bfcadf 336px,#bdcade 360px,#bcc9de 366px,#becade 384px,#c0cbdf 408px,#c3ccdf 432px,#c5cddf 456px,#c8cddf 480px,#cacedf 504px,#cdcfe0 528px,#d0d0e0 552px,#d2d1e0 576px,#d6d2df 600px,#dad2df 624px,#ddd3de 648px,#e1d4de 672px,#e4d5dd 696px,#e8d5dc 720px,#ebd6dc 744px,#ecd6dc 749px)"></div><div style="top:252px;background:linear-gradient(90deg,#ead6dc 0px,#e7d5dd 24px,#e3d4dd 48px,#e0d4de 72px,#dcd3de 96px,#d8d2df 120px,#d4d1e0 144px,#d1d1e0 168px,#cfd0e0 192px,#cccfe0 216px,#cacedf 240px,#c7cddf 264px,#c4ccdf 288px,#c2cbdf 312px,#bfcadf 336px,#bdcade 360px,#bdcade 366px,#becade 384px,#c0cbdf 408px,#c3ccdf 432px,#c6cddf 456px,#c8cedf 480px,#cbcedf 504px,#cdcfe0 528px,#d0d0e0 552px,#d2d1e0 576px,#d6d2df 600px,#dad3df 624px,#ded3de 648px,#e1d4dd 672px,#e5d5dd 696px,#e8d5dc 720px,#ebd6dc 744px,#ecd6dc 749px)"></div><div style="top:256px;background:linear-gradient(90deg,#ead6dc 0px,#e7d5dd 24px,#e3d4dd 48px,#e0d4de 72px,#dcd3de 96px,#d9d2df 120px,#d5d2e0 144px,#d1d1e0 168px,#cfd0e0 192px,#cccfe0 216px,#cacedf 240px,#c7cddf 264px,#c5ccdf 288px,#c2cbdf 312px,#c0cbdf 336px,#becade 360px,#bdcade 366px,#becade 384px,#c1cbdf 408px,#c3ccdf 432px,#c6cddf 456px,#c8cedf 480px,#cbcfdf 504px,#cecfe0 528px,#d0d0e0 552px,#d3d1e0 576px,#d7d2df 600px,#dad3df 624px,#ded3de 648px,#e2d4dd 672px,#e5d5dd 696px,#e8d5dc 720px,#ecd6dc 744px,#ecd6dc 749px)"></div><div style="top:260px;background:linear-gradient(90deg,#ead6dc 0px,#e7d5dc 24px,#e4d4dd 48px,#e0d4de 72px,#ddd3de 96px,#d9d2df 120px,#d5d2df 144px,#d2d1e0 168px,#cfd0e0 192px,#cdcfe0 216px,#cacedf 240px,#c8cddf 264px,#c5cddf 288px,#c3ccdf 312px,#c0cbdf 336px,#becade 360px,#becade 366px,#bfcadf 384px,#c1cbdf 408px,#c4ccdf 432px,#c6cddf 456px,#c9cedf 480px,#cbcfdf 504px,#ced0e0 528px,#d0d0e0 552px,#d3d1e0 576px,#d7d2df 600px,#dbd3df 624px,#ded3de 648px,#e2d4dd 672px,#e5d5dd 696px,#e9d5dc 720px,#ecd6dc 744px,#edd6dc 749px)"></div><div style="top:264px;background:linear-gradient(90deg,#ebd6dc 0px,#e7d5dc 24px,#e4d4dd 48px,#e1d4de 72px,#ddd3de 96px,#d9d2df 120px,#d6d2df 144px,#d2d1e0 168px,#cfd0e0 192px,#cdcfe0 216px,#cacedf 240px,#c8cedf 264px,#c5cddf 288px,#c3ccdf 312px,#c1cbdf 336px,#bfcadf 360px,#becade 366px,#bfcbdf 384px,#c2cbdf 408px,#c4ccdf 432px,#c7cddf 456px,#c9cedf 480px,#cccfe0 504px,#ced0e0 528px,#d1d0e0 552px,#d4d1e0 576px,#d7d2df 600px,#dbd3de 624px,#dfd3de 648px,#e2d4dd 672px,#e6d5dd 696px,#e9d5dc 720px,#ecd6dc 744px,#edd6dc 749px)"></div><div style="top:268px;background:linear-gradient(90deg,#ebd6dc 0px,#e8d5dc 24px,#e4d4dd 48px,#e1d4de 72px,#ddd3de 96px,#dad2df 120px,#d6d2df 144px,#d2d1e0 168px,#d0d0e0 192px,#cdcfe0 216px,#cbcedf 240px,#c8cedf 264px,#c6cddf 288px,#c3ccdf 312px,#c1cbdf 336px,#bfcadf 360px,#bfcadf 366px,#c0cbdf 384px,#c2cbdf 408px,#c4ccdf 432px,#c7cddf 456px,#c9cedf 480px,#cccfe0 504px,#ced0e0 528px,#d1d1e0 552px,#d4d1e0 576px,#d8d2df 600px,#dbd3de 624px,#dfd3de 648px,#e3d4dd 672px,#e6d5dd 696px,#e9d5dc 720px,#ecd6dc 744px,#edd6db 749px)"></div><div style="top:272px;background:linear-gradient(90deg,#ebd6dc 0px,#e8d5dc 24px,#e5d5dd 48px,#e1d4dd 72px,#ded3de 96px,#dad3df 120px,#d6d2df 144px,#d3d1e0 168px,#d0d0e0 192px,#cecfe0 216px,#cbcfdf 240px,#c9cedf 264px,#c6cddf 288px,#c4ccdf 312px,#c1cbdf 336px,#c0cbdf 360px,#bfcbdf 366px,#c0cbdf 384px,#c2ccdf 408px,#c5ccdf 432px,#c7cddf 456px,#cacedf 480px,#cccfe0 504px,#cfd0e0 528px,#d1d1e0 552px,#d4d1e0 576px,#d8d2df 600px,#dcd3de 624px,#dfd4de 648px,#e3d4dd 672px,#e6d5dd 696px,#ead5dc 720px,#edd6dc 744px,#edd6db 749px)"></div><div style="top:276px;background:linear-gradient(90deg,#ecd6dc 0px,#e8d5dc 24px,#e5d5dd 48px,#e2d4dd 72px,#ded3de 96px,#dad3df 120px,#d7d2df 144px,#d3d1e0 168px,#d0d0e0 192px,#ced0e0 216px,#cbcfdf 240px,#c9cedf 264px,#c7cddf 288px,#c4ccdf 312px,#c2cbdf 336px,#c0cbdf 360px,#c0cbdf 366px,#c1cbdf 384px,#c3ccdf 408px,#c5cddf 432px,#c8cddf 456px,#cacedf 480px,#cdcfe0 504px,#cfd0e0 528px,#d1d1e0 552px,#d5d2e0 576px,#d9d2df 600px,#dcd3de 624px,#e0d4de 648px,#e3d4dd 672px,#e7d5dd 696px,#ead6dc 720px,#edd6db 744px,#eed6db 749px)"></div><div style="top:280px;background:linear-gradient(90deg,#ecd6dc 0px,#e9d5dc 24px,#e5d5dd 48px,#e2d4dd 72px,#ded3de 96px,#dbd3df 120px,#d7d2df 144px,#d3d1e0 168px,#d1d0e0 192px,#ced0e0 216px,#cccfe0 240px,#c9cedf 264px,#c7cddf 288px,#c5ccdf 312px,#c2ccdf 336px,#c1cbdf 360px,#c0cbdf 366px,#c1cbdf 384px,#c3ccdf 408px,#c6cddf 432px,#c8cedf 456px,#cacedf 480px,#cdcfe0 504px,#cfd0e0 528px,#d2d1e0 552px,#d5d2df 576px,#d9d2df 600px,#ddd3de 624px,#e0d4de 648px,#e4d4dd 672px,#e7d5dd 696px,#ead6dc 720px,#edd6db 744px,#eed6db 749px)"></div><div style="top:284px;background:linear-gradient(90deg,#ecd6dc 0px,#e9d5dc 24px,#e6d5dd 48px,#e2d4dd 72px,#dfd3de 96px,#dbd3de 120px,#d8d2df 144px,#d4d1e0 168px,#d1d1e0 192px,#ced0e0 216px,#cccfe0 240px,#cacedf 264px,#c7cddf 288px,#c5ccdf 312px,#c3ccdf 336px,#c1cbdf 360px,#c1cbdf 366px,#c2cbdf 384px,#c4ccdf 408px,#c6cddf 432px,#c8cedf 456px,#cbcfdf 480px,#cdcfe0 504px,#d0d0e0 528px,#d2d1e0 552px,#d6d2df 576px,#d9d2df 600px,#ddd3de 624px,#e0d4de 648px,#e4d4dd 672px,#e7d5dc 696px,#ead6dc 720px,#eed6db 744px,#eed6db 749px)"></div><div style="top:288px;background:linear-gradient(90deg,#ecd6dc 0px,#e9d5dc 24px,#e6d5dd 48px,#e3d4dd 72px,#dfd4de 96px,#dcd3de 120px,#d8d2df 144px,#d4d1e0 168px,#d1d1e0 192px,#cfd0e0 216px,#cccfe0 240px,#cacedf 264px,#c8cddf 288px,#c5cddf 312px,#c3ccdf 336px,#c2cbdf 360px,#c1cbdf 366px,#c2ccdf 384px,#c4ccdf 408px,#c6cddf 432px,#c9cedf 456px,#cbcfdf 480px,#cecfe0 504px,#d0d0e0 528px,#d2d1e0 552px,#d6d2df 576px,#dad2df 600px,#ddd3de 624px,#e1d4de 648px,#e4d4dd 672px,#e8d5dc 696px,#ebd6dc 720px,#eed6db 744px,#efd6db 749px)"></div><div style="top:292px;background:linear-gradient(90deg,#edd6dc 0px,#ead6dc 24px,#e6d5dd 48px,#e3d4dd 72px,#e0d4de 96px,#dcd3de 120px,#d8d2df 144px,#d5d2e0 168px,#d1d1e0 192px,#cfd0e0 216px,#cdcfe0 240px,#cacedf 264px,#c8cedf 288px,#c6cddf 312px,#c4ccdf 336px,#c2cbdf 360px,#c2cbdf 366px,#c3ccdf 384px,#c5ccdf 408px,#c7cddf 432px,#c9cedf 456px,#cccfe0 480px,#ced0e0 504px,#d0d0e0 528px,#d3d1e0 552px,#d7d2df 576px,#dad3df 600px,#ded3de 624px,#e1d4dd 648px,#e5d5dd 672px,#e8d5dc 696px,#ebd6dc 720px,#eed6db 744px,#efd7db 749px)"></div><div style="top:296px;background:linear-gradient(90deg,#edd6db 0px,#ead6dc 24px,#e7d5dd 48px,#e3d4dd 72px,#e0d4de 96px,#ddd3de 120px,#d9d2df 144px,#d5d2df 168px,#d2d1e0 192px,#cfd0e0 216px,#cdcfe0 240px,#cbcedf 264px,#c8cedf 288px,#c6cddf 312px,#c4ccdf 336px,#c3ccdf 360px,#c2ccdf 366px,#c3ccdf 384px,#c5cddf 408px,#c7cddf 432px,#cacedf 456px,#cccfe0 480px,#ced0e0 504px,#d1d0e0 528px,#d3d1e0 552px,#d7d2df 576px,#dbd3df 600px,#ded3de 624px,#e2d4dd 648px,#e5d5dd 672px,#e8d5dc 696px,#ebd6dc 720px,#efd6db 744px,#efd7db 749px)"></div><div style="top:300px;background:linear-gradient(90deg,#edd6db 0px,#ead6dc 24px,#e7d5dc 48px,#e4d4dd 72px,#e0d4de 96px,#ddd3de 120px,#d9d2df 144px,#d6d2df 168px,#d2d1e0 192px,#d0d0e0 216px,#cdcfe0 240px,#cbcfdf 264px,#c9cedf 288px,#c7cddf 312px,#c5ccdf 336px,#c3ccdf 360px,#c3ccdf 366px,#c4ccdf 384px,#c6cddf 408px,#c8cddf 432px,#cacedf 456px,#cccfe0 480px,#cfd0e0 504px,#d1d1e0 528px,#d4d1e0 552px,#d7d2df 576px,#dbd3de 600px,#dfd3de 624px,#e2d4dd 648px,#e5d5dd 672px,#e9d5dc 696px,#ecd6dc 720px,#efd7db 744px,#f0d7db 749px)"></div><div style="top:304px;background:linear-gradient(90deg,#eed6db 0px,#ebd6dc 24px,#e7d5dc 48px,#e4d4dd 72px,#e1d4de 96px,#ddd3de 120px,#dad2df 144px,#d6d2df 168px,#d3d1e0 192px,#d0d0e0 216px,#ced0e0 240px,#cccfe0 264px,#c9cedf 288px,#c7cddf 312px,#c5cddf 336px,#c4ccdf 360px,#c3ccdf 366px,#c4ccdf 384px,#c6cddf 408px,#c8cedf 432px,#cacedf 456px,#cdcfe0 480px,#cfd0e0 504px,#d1d1e0 528px,#d4d1e0 552px,#d8d2df 576px,#dbd3de 600px,#dfd3de 624px,#e2d4dd 648px,#e6d5dd 672px,#e9d5dc 696px,#ecd6dc 720px,#efd7db 744px,#f0d7db 749px)"></div><div style="top:308px;background:linear-gradient(90deg,#eed6db 0px,#ebd6dc 24px,#e8d5dc 48px,#e5d5dd 72px,#e1d4dd 96px,#ded3de 120px,#dad3df 144px,#d7d2df 168px,#d3d1e0 192px,#d0d0e0 216px,#ced0e0 240px,#cccfe0 264px,#cacedf 288px,#c8cddf 312px,#c6cddf 336px,#c4ccdf 360px,#c4ccdf 366px,#c5ccdf 384px,#c6cddf 408px,#c9cedf 432px,#cbcedf 456px,#cdcfe0 480px,#cfd0e0 504px,#d1d1e0 528px,#d5d2e0 552px,#d8d2df 576px,#dcd3de 600px,#dfd4de 624px,#e3d4dd 648px,#e6d5dd 672px,#e9d5dc 696px,#ecd6dc 720px,#f0d7db 744px,#f0d7db 749px)"></div><div style="top:312px;background:linear-gradient(90deg,#eed6db 0px,#ebd6dc 24px,#e8d5dc 48px,#e5d5dd 72px,#e2d4dd 96px,#ded3de 120px,#dbd3df 144px,#d7d2df 168px,#d4d1e0 192px,#d1d1e0 216px,#cfd0e0 240px,#cccfe0 264px,#cacedf 288px,#c8cedf 312px,#c6cddf 336px,#c4ccdf 360px,#c4ccdf 366px,#c5cddf 384px,#c7cddf 408px,#c9cedf 432px,#cbcfdf 456px,#cdcfe0 480px,#d0d0e0 504px,#d2d1e0 528px,#d5d2df 552px,#d9d2df 576px,#dcd3de 600px,#e0d4de 624px,#e3d4dd 648px,#e6d5dd 672px,#ead6dc 696px,#edd6dc 720px,#f0d7db 744px,#f0d7db 749px)"></div><div style="top:316px;background:linear-gradient(90deg,#efd6db 0px,#ecd6dc 24px,#e9d5dc 48px,#e5d5dd 72px,#e2d4dd 96px,#dfd3de 120px,#dbd3de 144px,#d8d2df 168px,#d4d1e0 192px,#d1d1e0 216px,#cfd0e0 240px,#cdcfe0 264px,#cacedf 288px,#c8cedf 312px,#c6cddf 336px,#c5ccdf 360px,#c5ccdf 366px,#c6cddf 384px,#c7cddf 408px,#c9cedf 432px,#cbcfdf 456px,#ced0e0 480px,#d0d0e0 504px,#d2d1e0 528px,#d6d2df 552px,#d9d2df 576px,#ddd3de 600px,#e0d4de 624px,#e4d4dd 648px,#e7d5dd 672px,#ead6dc 696px,#edd6db 720px,#f0d7db 744px,#f1d7db 749px)"></div><div style="top:320px;background:linear-gradient(90deg,#efd7db 0px,#ecd6dc 24px,#e9d5dc 48px,#e6d5dd 72px,#e2d4dd 96px,#dfd3de 120px,#dcd3de 144px,#d8d2df 168px,#d5d2e0 192px,#d1d1e0 216px,#cfd0e0 240px,#cdcfe0 264px,#cbcfdf 288px,#c9cedf 312px,#c7cddf 336px,#c5cddf 360px,#c5cddf 366px,#c6cddf 384px,#c8cddf 408px,#cacedf 432px,#cccfe0 456px,#ced0e0 480px,#d0d0e0 504px,#d3d1e0 528px,#d6d2df 552px,#dad2df 576px,#ddd3de 600px,#e1d4de 624px,#e4d4dd 648px,#e7d5dc 672px,#ead6dc 696px,#edd6db 720px,#f1d7db 744px,#f1d7db 749px)"></div><div style="top:324px;background:linear-gradient(90deg,#efd7db 0px,#ecd6dc 24px,#e9d5dc 48px,#e6d5dd 72px,#e3d4dd 96px,#e0d4de 120px,#dcd3de 144px,#d9d2df 168px,#d5d2df 192px,#d2d1e0 216px,#d0d0e0 240px,#cdcfe0 264px,#cbcfdf 288px,#c9cedf 312px,#c7cddf 336px,#c6cddf 360px,#c6cddf 366px,#c7cddf 384px,#c8cedf 408px,#cacedf 432px,#cccfe0 456px,#ced0e0 480px,#d1d1e0 504px,#d3d1e0 528px,#d7d2df 552px,#dad3df 576px,#ded3de 600px,#e1d4dd 624px,#e4d5dd 648px,#e8d5dc 672px,#ebd6dc 696px,#eed6db 720px,#f1d7db 744px,#f1d7db 749px)"></div><div style="top:328px;background:linear-gradient(90deg,#f0d7db 0px,#edd6dc 24px,#ead6dc 48px,#e7d5dd 72px,#e3d4dd 96px,#e0d4de 120px,#ddd3de 144px,#d9d2df 168px,#d6d2df 192px,#d2d1e0 216px,#d0d0e0 240px,#ced0e0 264px,#cccfe0 288px,#cacedf 312px,#c8cddf 336px,#c6cddf 360px,#c6cddf 366px,#c7cddf 384px,#c9cedf 408px,#cbcedf 432px,#cdcfe0 456px,#cfd0e0 480px,#d1d1e0 504px,#d4d1e0 528px,#d7d2df 552px,#dbd3df 576px,#ded3de 600px,#e2d4dd 624px,#e5d5dd 648px,#e8d5dc 672px,#ebd6dc 696px,#eed6db 720px,#f1d7db 744px,#f2d7db 749px)"></div><div style="top:332px;background:linear-gradient(90deg,#f0d7db 0px,#edd6db 24px,#ead6dc 48px,#e7d5dd 72px,#e4d4dd 96px,#e0d4de 120px,#ddd3de 144px,#dad2df 168px,#d6d2df 192px,#d3d1e0 216px,#d0d0e0 240px,#ced0e0 264px,#cccfe0 288px,#cacedf 312px,#c8cedf 336px,#c7cddf 360px,#c7cddf 366px,#c7cddf 384px,#c9cedf 408px,#cbcfdf 432px,#cdcfe0 456px,#cfd0e0 480px,#d1d1e0 504px,#d4d1e0 528px,#d8d2df 552px,#dbd3de 576px,#dfd3de 600px,#e2d4dd 624px,#e5d5dd 648px,#e8d5dc 672px,#ecd6dc 696px,#efd6db 720px,#f2d7db 744px,#f2d7db 749px)"></div><div style="top:336px;background:linear-gradient(90deg,#f0d7db 0px,#eed6db 24px,#ead6dc 48px,#e7d5dc 72px,#e4d4dd 96px,#e1d4de 120px,#ded3de 144px,#dad3df 168px,#d7d2df 192px,#d3d1e0 216px,#d1d1e0 240px,#cfd0e0 264px,#cccfe0 288px,#cbcedf 312px,#c9cedf 336px,#c7cddf 360px,#c7cddf 366px,#c8cedf 384px,#cacedf 408px,#cbcfdf 432px,#cdcfe0 456px,#d0d0e0 480px,#d2d1e0 504px,#d5d2e0 528px,#d8d2df 552px,#dcd3de 576px,#dfd3de 600px,#e2d4dd 624px,#e6d5dd 648px,#e9d5dc 672px,#ecd6dc 696px,#efd7db 720px,#f2d7db 744px,#f2d7db 749px)"></div><div style="top:340px;background:linear-gradient(90deg,#f1d7db 0px,#eed6db 24px,#ebd6dc 48px,#e8d5dc 72px,#e5d5dd 96px,#e1d4dd 120px,#ded3de 144px,#dbd3df 168px,#d7d2df 192px,#d4d1e0 216px,#d1d1e0 240px,#cfd0e0 264px,#cdcfe0 288px,#cbcfdf 312px,#c9cedf 336px,#c8cddf 360px,#c8cddf 366px,#c8cedf 384px,#cacedf 408px,#cccfe0 432px,#ced0e0 456px,#d0d0e0 480px,#d2d1e0 504px,#d5d2df 528px,#d9d2df 552px,#dcd3de 576px,#e0d4de 600px,#e3d4dd 624px,#e6d5dd 648px,#e9d5dc 672px,#ecd6dc 696px,#efd7db 720px,#f2d7db 744px,#f3d7db 749px)"></div><div style="top:344px;background:linear-gradient(90deg,#f1d7db 0px,#eed6db 24px,#ebd6dc 48px,#e8d5dc 72px,#e5d5dd 96px,#e2d4dd 120px,#ded3de 144px,#dbd3de 168px,#d8d2df 192px,#d4d1e0 216px,#d1d1e0 240px,#cfd0e0 264px,#cdcfe0 288px,#cbcfdf 312px,#cacedf 336px,#c8cedf 360px,#c8cedf 366px,#c9cedf 384px,#cacedf 408px,#cccfe0 432px,#ced0e0 456px,#d0d0e0 480px,#d3d1e0 504px,#d6d2df 528px,#d9d2df 552px,#ddd3de 576px,#e0d4de 600px,#e3d4dd 624px,#e6d5dd 648px,#ead5dc 672px,#edd6dc 696px,#f0d7db 720px,#f3d7db 744px,#f3d7da 749px)"></div><div style="top:348px;background:linear-gradient(90deg,#f2d7db 0px,#efd6db 24px,#ecd6dc 48px,#e9d5dc 72px,#e5d5dd 96px,#e2d4dd 120px,#dfd3de 144px,#dcd3de 168px,#d8d2df 192px,#d5d2e0 216px,#d2d1e0 240px,#d0d0e0 264px,#ced0e0 288px,#cccfe0 312px,#cacedf 336px,#c9cedf 360px,#c9cedf 366px,#c9cedf 384px,#cbcfdf 408px,#cdcfe0 432px,#cfd0e0 456px,#d1d1e0 480px,#d3d1e0 504px,#d7d2df 528px,#dad2df 552px,#ddd3de 576px,#e0d4de 600px,#e4d4dd 624px,#e7d5dd 648px,#ead6dc 672px,#edd6db 696px,#f0d7db 720px,#f3d7db 744px,#f3d7da 749px)"></div><div style="top:352px;background:linear-gradient(90deg,#f2d7db 0px,#efd7db 24px,#ecd6dc 48px,#e9d5dc 72px,#e6d5dd 96px,#e3d4dd 120px,#dfd4de 144px,#dcd3de 168px,#d9d2df 192px,#d5d2df 216px,#d2d1e0 240px,#d0d0e0 264px,#ced0e0 288px,#cccfe0 312px,#cbcedf 336px,#c9cedf 360px,#c9cedf 366px,#cacedf 384px,#cbcfdf 408px,#cdcfe0 432px,#cfd0e0 456px,#d1d1e0 480px,#d4d1e0 504px,#d7d2df 528px,#dad3df 552px,#ded3de 576px,#e1d4de 600px,#e4d4dd 624px,#e7d5dc 648px,#ead6dc 672px,#edd6db 696px,#f0d7db 720px,#f3d7da 744px,#f4d7da 749px)"></div><div style="top:356px;background:linear-gradient(90deg,#f2d7db 0px,#efd7db 24px,#ecd6dc 48px,#e9d5dc 72px,#e6d5dd 96px,#e3d4dd 120px,#e0d4de 144px,#ddd3de 168px,#d9d2df 192px,#d6d2df 216px,#d3d1e0 240px,#d0d0e0 264px,#ced0e0 288px,#cdcfe0 312px,#cbcfdf 336px,#cacedf 360px,#c9cedf 366px,#cacedf 384px,#cccfe0 408px,#cdcfe0 432px,#cfd0e0 456px,#d1d1e0 480px,#d4d1e0 504px,#d8d2df 528px,#dbd3df 552px,#ded3de 576px,#e1d4dd 600px,#e5d5dd 624px,#e8d5dc 648px,#ebd6dc 672px,#eed6db 696px,#f1d7db 720px,#f4d7da 744px,#f4d8da 749px)"></div><div style="top:360px;background:linear-gradient(90deg,#f3d7db 0px,#f0d7db 24px,#edd6dc 48px,#ead6dc 72px,#e7d5dd 96px,#e4d4dd 120px,#e0d4de 144px,#ddd3de 168px,#dad3df 192px,#d7d2df 216px,#d3d1e0 240px,#d1d1e0 264px,#cfd0e0 288px,#cdcfe0 312px,#cbcfdf 336px,#cacedf 360px,#cacedf 366px,#cbcedf 384px,#cccfe0 408px,#ced0e0 432px,#d0d0e0 456px,#d2d1e0 480px,#d5d2e0 504px,#d8d2df 528px,#dbd3de 552px,#dfd3de 576px,#e2d4dd 600px,#e5d5dd 624px,#e8d5dc 648px,#ebd6dc 672px,#eed6db 696px,#f1d7db 720px,#f4d7da 744px,#f4d8da 749px)"></div><div style="top:364px;background:linear-gradient(90deg,#f3d7db 0px,#f0d7db 24px,#edd6db 48px,#ead6dc 72px,#e7d5dc 96px,#e4d4dd 120px,#e1d4de 144px,#ded3de 168px,#dad3df 192px,#d7d2df 216px,#d4d1e0 240px,#d1d1e0 264px,#cfd0e0 288px,#cdcfe0 312px,#cccfe0 336px,#cbcedf 360px,#cacedf 366px,#cbcfdf 384px,#cdcfe0 408px,#ced0e0 432px,#d0d0e0 456px,#d2d1e0 480px,#d5d2df 504px,#d9d2df 528px,#dcd3de 552px,#dfd4de 576px,#e2d4dd 600px,#e5d5dd 624px,#e9d5dc 648px,#ecd6dc 672px,#efd6db 696px,#f1d7db 720px,#f4d8da 744px,#f5d8da 749px)"></div><div style="top:368px;background:linear-gradient(90deg,#f3d7da 0px,#f0d7db 24px,#eed6db 48px,#ebd6dc 72px,#e8d5dc 96px,#e4d5dd 120px,#e1d4dd 144px,#ded3de 168px,#dbd3df 192px,#d8d2df 216px,#d5d1e0 240px,#d2d1e0 264px,#d0d0e0 288px,#ced0e0 312px,#cccfe0 336px,#cbcfdf 360px,#cbcfdf 366px,#cccfe0 384px,#cdcfe0 408px,#cfd0e0 432px,#d1d1e0 456px,#d3d1e0 480px,#d6d2df 504px,#d9d2df 528px,#dcd3de 552px,#e0d4de 576px,#e3d4dd 600px,#e6d5dd 624px,#e9d5dc 648px,#ecd6dc 672px,#efd7db 696px,#f2d7db 720px,#f5d8da 744px,#f5d8da 749px)"></div><div style="top:372px;background:linear-gradient(90deg,#f4d7da 0px,#f1d7db 24px,#eed6db 48px,#ebd6dc 72px,#e8d5dc 96px,#e5d5dd 120px,#e2d4dd 144px,#dfd3de 168px,#dbd3de 192px,#d8d2df 216px,#d5d2df 240px,#d2d1e0 264px,#d0d0e0 288px,#ced0e0 312px,#cdcfe0 336px,#cbcfdf 360px,#cbcfdf 366px,#cccfe0 384px,#cdcfe0 408px,#cfd0e0 432px,#d1d1e0 456px,#d3d1e0 480px,#d7d2df 504px,#dad2df 528px,#ddd3de 552px,#e0d4de 576px,#e3d4dd 600px,#e6d5dd 624px,#e9d5dc 648px,#ecd6dc 672px,#efd7db 696px,#f2d7db 720px,#f5d8da 744px,#f6d8da 749px)"></div><div style="top:376px;background:linear-gradient(90deg,#f4d7da 0px,#f1d7db 24px,#eed6db 48px,#ebd6dc 72px,#e8d5dc 96px,#e5d5dd 120px,#e2d4dd 144px,#dfd4de 168px,#dcd3de 192px,#d9d2df 216px,#d6d2df 240px,#d3d1e0 264px,#d0d0e0 288px,#cfd0e0 312px,#cdcfe0 336px,#cccfe0 360px,#cccfe0 366px,#cccfe0 384px,#ced0e0 408px,#d0d0e0 432px,#d1d1e0 456px,#d4d1e0 480px,#d7d2df 504px,#dad3df 528px,#ddd3de 552px,#e1d4de 576px,#e4d4dd 600px,#e7d5dd 624px,#ead6dc 648px,#edd6dc 672px,#f0d7db 696px,#f3d7db 720px,#f5d8da 744px,#f6d8da 749px)"></div><div style="top:380px;background:linear-gradient(90deg,#f4d8da 0px,#f2d7db 24px,#efd6db 48px,#ecd6dc 72px,#e9d5dc 96px,#e6d5dd 120px,#e3d4dd 144px,#e0d4de 168px,#ddd3de 192px,#d9d2df 216px,#d6d2df 240px,#d3d1e0 264px,#d1d1e0 288px,#cfd0e0 312px,#cecfe0 336px,#cccfe0 360px,#cccfe0 366px,#cdcfe0 384px,#ced0e0 408px,#d0d0e0 432px,#d2d1e0 456px,#d5d1e0 480px,#d8d2df 504px,#dbd3df 528px,#ded3de 552px,#e1d4dd 576px,#e4d4dd 600px,#e7d5dc 624px,#ead6dc 648px,#edd6db 672px,#f0d7db 696px,#f3d7db 720px,#f6d8da 744px,#f6d8da 749px)"></div><div style="top:384px;background:linear-gradient(90deg,#f5d8da 0px,#f2d7db 24px,#efd7db 48px,#ecd6dc 72px,#e9d5dc 96px,#e6d5dd 120px,#e3d4dd 144px,#e0d4de 168px,#ddd3de 192px,#dad3df 216px,#d7d2df 240px,#d4d1e0 264px,#d1d1e0 288px,#d0d0e0 312px,#ced0e0 336px,#cdcfe0 360px,#cdcfe0 366px,#cdcfe0 384px,#cfd0e0 408px,#d0d0e0 432px,#d2d1e0 456px,#d5d2df 480px,#d8d2df 504px,#dbd3de 528px,#dfd3de 552px,#e2d4dd 576px,#e5d5dd 600px,#e8d5dc 624px,#ebd6dc 648px,#eed6db 672px,#f1d7db 696px,#f3d7da 720px,#f6d8da 744px,#f7d8da 749px)"></div><div style="top:388px;background:linear-gradient(90deg,#f5d8da 0px,#f2d7db 24px,#f0d7db 48px,#edd6dc 72px,#ead6dc 96px,#e7d5dd 120px,#e4d4dd 144px,#e1d4de 168px,#ded3de 192px,#dbd3df 216px,#d7d2df 240px,#d4d1e0 264px,#d2d1e0 288px,#d0d0e0 312px,#ced0e0 336px,#cdcfe0 360px,#cdcfe0 366px,#ced0e0 384px,#cfd0e0 408px,#d1d1e0 432px,#d3d1e0 456px,#d6d2df 480px,#d9d2df 504px,#dcd3de 528px,#dfd3de 552px,#e2d4dd 576px,#e5d5dd 600px,#e8d5dc 624px,#ebd6dc 648px,#eed6db 672px,#f1d7db 696px,#f4d7da 720px,#f6d8da 744px,#f7d8da 749px)"></div><div style="top:392px;background:linear-gradient(90deg,#f5d8da 0px,#f3d7db 24px,#f0d7db 48px,#edd6db 72px,#ead6dc 96px,#e7d5dc 120px,#e4d4dd 144px,#e1d4dd 168px,#ded3de 192px,#dbd3de 216px,#d8d2df 240px,#d5d2df 264px,#d2d1e0 288px,#d0d0e0 312px,#cfd0e0 336px,#ced0e0 360px,#cecfe0 366px,#ced0e0 384px,#d0d0e0 408px,#d1d1e0 432px,#d3d1e0 456px,#d6d2df 480px,#d9d2df 504px,#dcd3de 528px,#e0d4de 552px,#e3d4dd 576px,#e6d5dd 600px,#e9d5dc 624px,#ecd6dc 648px,#eed6db 672px,#f1d7db 696px,#f4d7da 720px,#f7d8da 744px,#f7d8da 749px)"></div><div style="top:396px;background:linear-gradient(90deg,#f6d8da 0px,#f3d7da 24px,#f0d7db 48px,#eed6db 72px,#ebd6dc 96px,#e8d5dc 120px,#e5d5dd 144px,#e2d4dd 168px,#dfd3de 192px,#dcd3de 216px,#d9d2df 240px,#d6d2df 264px,#d3d1e0 288px,#d1d1e0 312px,#cfd0e0 336px,#ced0e0 360px,#ced0e0 366px,#cfd0e0 384px,#d0d0e0 408px,#d2d1e0 432px,#d4d1e0 456px,#d7d2df 480px,#dad3df 504px,#ddd3de 528px,#e0d4de 552px,#e3d4dd 576px,#e6d5dd 600px,#e9d5dc 624px,#ecd6dc 648px,#efd6db 672px,#f2d7db 696px,#f4d8da 720px,#f7d8da 744px,#f8d8da 749px)"></div><div style="top:400px;background:linear-gradient(90deg,#f6d8da 0px,#f4d7da 24px,#f1d7db 48px,#eed6db 72px,#ebd6dc 96px,#e8d5dc 120px,#e5d5dd 144px,#e2d4dd 168px,#dfd4de 192px,#dcd3de 216px,#d9d2df 240px,#d6d2df 264px,#d3d1e0 288px,#d1d1e0 312px,#d0d0e0 336px,#cfd0e0 360px,#ced0e0 366px,#cfd0e0 384px,#d0d0e0 408px,#d2d1e0 432px,#d5d2e0 456px,#d8d2df 480px,#dbd3df 504px,#ded3de 528px,#e1d4de 552px,#e4d4dd 576px,#e7d5dd 600px,#ead5dc 624px,#ecd6dc 648px,#efd7db 672px,#f2d7db 696px,#f5d8da 720px,#f7d8da 744px,#f8d8da 749px)"></div><div style="top:404px;background:linear-gradient(90deg,#f7d8da 0px,#f4d7da 24px,#f1d7db 48px,#eed6db 72px,#ecd6dc 96px,#e9d5dc 120px,#e6d5dd 144px,#e3d4dd 168px,#e0d4de 192px,#ddd3de 216px,#dad2df 240px,#d7d2df 264px,#d4d1e0 288px,#d2d1e0 312px,#d0d0e0 336px,#cfd0e0 360px,#cfd0e0 366px,#d0d0e0 384px,#d1d1e0 408px,#d3d1e0 432px,#d5d2df 456px,#d8d2df 480px,#dbd3de 504px,#ded3de 528px,#e1d4dd 552px,#e4d4dd 576px,#e7d5dc 600px,#ead6dc 624px,#edd6dc 648px,#f0d7db 672px,#f2d7db 696px,#f5d8da 720px,#f8d8da 744px,#f8d8da 749px)"></div><div style="top:408px;background:linear-gradient(90deg,#f7d8da 0px,#f4d8da 24px,#f2d7db 48px,#efd6db 72px,#ecd6dc 96px,#e9d5dc 120px,#e6d5dd 144px,#e3d4dd 168px,#e0d4de 192px,#ddd3de 216px,#dad3df 240px,#d7d2df 264px,#d5d2e0 288px,#d2d1e0 312px,#d1d1e0 336px,#cfd0e0 360px,#cfd0e0 366px,#d0d0e0 384px,#d1d1e0 408px,#d3d1e0 432px,#d6d2df 456px,#d9d2df 480px,#dcd3de 504px,#dfd3de 528px,#e2d4dd 552px,#e5d5dd 576px,#e8d5dc 600px,#ead6dc 624px,#edd6db 648px,#f0d7db 672px,#f3d7db 696px,#f6d8da 720px,#f8d8da 744px,#f9d8da 749px)"></div><div style="top:412px;background:linear-gradient(90deg,#f7d8da 0px,#f5d8da 24px,#f2d7db 48px,#efd7db 72px,#ecd6dc 96px,#ead5dc 120px,#e7d5dd 144px,#e4d4dd 168px,#e1d4de 192px,#ded3de 216px,#dbd3df 240px,#d8d2df 264px,#d5d2df 288px,#d3d1e0 312px,#d1d1e0 336px,#d0d0e0 360px,#d0d0e0 366px,#d0d0e0 384px,#d2d1e0 408px,#d4d1e0 432px,#d7d2df 456px,#d9d2df 480px,#dcd3de 504px,#dfd4de 528px,#e2d4dd 552px,#e5d5dd 576px,#e8d5dc 600px,#ebd6dc 624px,#eed6db 648px,#f1d7db 672px,#f3d7da 696px,#f6d8da 720px,#f8d8da 744px,#f9d8d9 749px)"></div><div style="top:416px;background:linear-gradient(90deg,#f8d8da 0px,#f5d8da 24px,#f2d7db 48px,#f0d7db 72px,#edd6dc 96px,#ead6dc 120px,#e7d5dc 144px,#e4d4dd 168px,#e1d4dd 192px,#ded3de 216px,#dcd3de 240px,#d9d2df 264px,#d6d2df 288px,#d3d1e0 312px,#d1d1e0 336px,#d0d0e0 360px,#d0d0e0 366px,#d1d1e0 384px,#d2d1e0 408px,#d5d1e0 432px,#d7d2df 456px,#dad3df 480px,#ddd3de 504px,#e0d4de 528px,#e3d4dd 552px,#e6d5dd 576px,#e8d5dc 600px,#ebd6dc 624px,#eed6db 648px,#f1d7db 672px,#f4d7da 696px,#f6d8da 720px,#f9d8da 744px,#f9d8d9 749px)"></div><div style="top:420px;background:linear-gradient(90deg,#f8d8da 0px,#f5d8da 24px,#f3d7db 48px,#f0d7db 72px,#edd6db 96px,#ead6dc 120px,#e8d5dc 144px,#e5d5dd 168px,#e2d4dd 192px,#dfd3de 216px,#dcd3de 240px,#d9d2df 264px,#d7d2df 288px,#d4d1e0 312px,#d2d1e0 336px,#d1d1e0 360px,#d1d1e0 366px,#d1d1e0 384px,#d3d1e0 408px,#d5d2df 432px,#d8d2df 456px,#dbd3df 480px,#ddd3de 504px,#e0d4de 528px,#e3d4dd 552px,#e6d5dd 576px,#e9d5dc 600px,#ecd6dc 624px,#efd6db 648px,#f1d7db 672px,#f4d7da 696px,#f7d8da 720px,#f9d8d9 744px,#fad9d9 749px)"></div><div style="top:424px;background:linear-gradient(90deg,#f8d8da 0px,#f6d8da 24px,#f3d7da 48px,#f0d7db 72px,#eed6db 96px,#ebd6dc 120px,#e8d5dc 144px,#e5d5dd 168px,#e2d4dd 192px,#dfd4de 216px,#ddd3de 240px,#dad2df 264px,#d7d2df 288px,#d5d2e0 312px,#d2d1e0 336px,#d1d1e0 360px,#d1d1e0 366px,#d2d1e0 384px,#d3d1e0 408px,#d6d2df 432px,#d8d2df 456px,#dbd3de 480px,#ded3de 504px,#e1d4de 528px,#e4d4dd 552px,#e7d5dd 576px,#e9d5dc 600px,#ecd6dc 624px,#efd7db 648px,#f2d7db 672px,#f4d8da 696px,#f7d8da 720px,#fad9d9 744px,#fad9d9 749px)"></div><div style="top:428px;background:linear-gradient(90deg,#f9d8da 0px,#f6d8da 24px,#f4d7da 48px,#f1d7db 72px,#eed6db 96px,#ebd6dc 120px,#e9d5dc 144px,#e6d5dd 168px,#e3d4dd 192px,#e0d4de 216px,#ddd3de 240px,#dad3df 264px,#d8d2df 288px,#d5d2df 312px,#d3d1e0 336px,#d2d1e0 360px,#d1d1e0 366px,#d2d1e0 384px,#d4d1e0 408px,#d6d2df 432px,#d9d2df 456px,#dcd3de 480px,#dfd3de 504px,#e1d4dd 528px,#e4d4dd 552px,#e7d5dc 576px,#ead6dc 600px,#edd6dc 624px,#efd7db 648px,#f2d7db 672px,#f5d8da 696px,#f7d8da 720px,#fad9d9 744px,#fad9d9 749px)"></div></div>
<div id="cb"></div>
<div class="axis"></div>
<div class="tick" style="top:8.25px"></div><div class="tick" style="top:61.11px"></div><div class="tick" style="top:113.97px"></div><div class="tick" style="top:166.82px"></div><div class="tick" style="top:219.68px"></div><div class="tick" style="top:272.54px"></div><div class="tick" style="top:325.39px"></div><div class="tick" style="top:378.25px"></div><div class="tick" style="top:431.11px"></div>
<div class="bar" style="left:26.6px;top:22.00px;width:431.40px"></div><div class="lab" style="left:262.40px;top:35.00px;letter-spacing:0.829px">Transportation/ Transport</div><div class="val" style="top:35.00px">26,9%</div><div class="bar" style="left:26.0px;top:74.86px;width:432.00px"></div><div class="lab" style="left:202.78px;top:88.00px;letter-spacing:0.671px">Food and Baverages/ Hrana i piće</div><div class="val" style="top:88.00px">25,7%</div><div class="bar" style="left:25.7px;top:127.71px;width:432.30px"></div><div class="lab" style="left:296.58px;top:141.00px;letter-spacing:0.796px">Housing/ Stanovanje</div><div class="val" style="top:141.00px">24,5%</div><div class="bar" style="left:24.6px;top:180.57px;width:433.40px"></div><div class="lab" style="left:124.00px;top:194.00px;letter-spacing:0.761px">Other goods &amp; services/ Ostale robe i usluge</div><div class="val" style="top:194.00px">22,4%</div><div class="bar" style="left:20.6px;top:233.43px;width:437.40px"></div><div class="lab" style="left:284.28px;top:246.00px;letter-spacing:0.622px">Recreation/ Rekreacija</div><div class="val" style="top:246.00px">13,2%</div><div class="bar" style="left:19.3px;top:286.28px;width:438.70px"></div><div class="lab" style="left:272.68px;top:299.00px;letter-spacing:0.692px">Medical Care/ Zdravstvo</div><div class="val" style="top:299.00px">10,1%</div><div class="bar" style="left:18.0px;top:339.14px;width:440.00px"></div><div class="lab" style="left:336.20px;top:352.00px;letter-spacing:0.629px">Apparel/ Odeća</div><div class="val" style="top:352.00px">7,6%</div><div class="bar" style="left:17.0px;top:392.00px;width:441.00px"></div><div class="lab" style="left:31.38px;top:405.00px;letter-spacing:0.855px">Education &amp; Communication/ Obrazovanje i komunikacije</div><div class="val" style="top:405.00px">5,3%</div>
<svg class="box" width="749" height="431"><polygon points="552.5,65.1 744.7,65.1 696.4,383.2 505.1,383.2" fill="none" stroke="rgba(255,255,255,0.22)" stroke-width="3"/><polygon points="552.5,65.1 744.7,65.1 696.4,383.2 505.1,383.2" fill="#cf756d" stroke="#c96a62" stroke-width="1"/></svg>
<div class="title">jan2020-avg2024</div>
<div class="txt"><span class="sh">All items/ Sve</span><br>21.3%<br><br>Durables/<br>Razmenjiva dobra<br>21.0%<br><br>Nondurables/<br>Nerazmenjiva dobra<br><span class="sh">17.0%</span></div>
</body></html>
